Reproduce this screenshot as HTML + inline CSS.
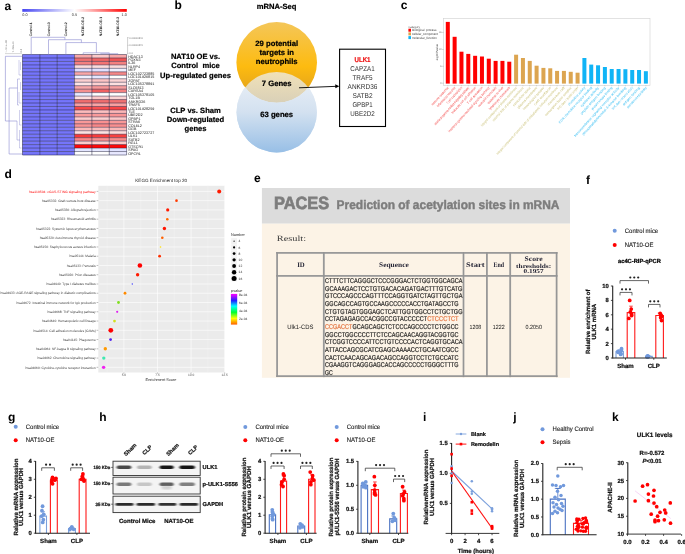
<!DOCTYPE html>
<html><head><meta charset="utf-8"><style>
html,body{margin:0;padding:0;background:#fff;width:685px;height:554px;overflow:hidden}
svg{display:block;will-change:transform;font-family:"Liberation Sans",sans-serif}
text{text-rendering:geometricPrecision}
</style></head><body>
<svg width="685" height="554" viewBox="0 0 685 554">
<defs>
<linearGradient id="cbar" x1="0" x2="1" y1="0" y2="0"><stop offset="0" stop-color="#4646f2"/><stop offset="0.5" stop-color="#ffffff"/><stop offset="1" stop-color="#ff0000"/></linearGradient>
<linearGradient id="gOr" x1="0" x2="0" y1="0" y2="1"><stop offset="0" stop-color="#f4c659"/><stop offset="0.55" stop-color="#fdbb10"/><stop offset="1" stop-color="#d99a20"/></linearGradient>
<linearGradient id="gBl" x1="0" x2="0" y1="0" y2="1"><stop offset="0" stop-color="#eef2f8"/><stop offset="0.5" stop-color="#d3e1f0"/><stop offset="1" stop-color="#98bfe6"/></linearGradient>
<linearGradient id="pv" x1="0" x2="0" y1="0" y2="1"><stop offset="0" stop-color="#ff00ff"/><stop offset="0.22" stop-color="#2020ff"/><stop offset="0.4" stop-color="#00ffff"/><stop offset="0.6" stop-color="#00ff30"/><stop offset="0.8" stop-color="#ffff00"/><stop offset="1" stop-color="#ff6000"/></linearGradient>
<filter id="blur1"><feGaussianBlur stdDeviation="0.9"/></filter>
<filter id="blurB" x="-20%" y="-100%" width="140%" height="300%"><feGaussianBlur stdDeviation="0.9 0.55"/></filter>
<filter id="blur2"><feGaussianBlur stdDeviation="1.3 0.6"/></filter>
</defs>
<rect x="0" y="0" width="685" height="554" fill="#fff"/>
<text x="4.60" y="9.70" font-size="12" fill="#000" text-anchor="start" font-weight="bold">a</text>
<rect x="22.30" y="9.00" width="104.50" height="2.80" fill="url(#cbar)" stroke="none" stroke-width="1"/>
<text x="22.30" y="15.60" font-size="3.8" fill="#333" text-anchor="start" font-weight="normal">0.0</text>
<text x="74.50" y="15.60" font-size="3.8" fill="#333" text-anchor="middle" font-weight="normal">0.5</text>
<text x="126.80" y="15.60" font-size="3.8" fill="#333" text-anchor="end" font-weight="normal">1.0</text>
<rect x="22.50" y="54.50" width="17.40" height="3.52" fill="#7575fa" stroke="none" stroke-width="1"/>
<rect x="39.85" y="54.50" width="17.40" height="3.52" fill="#7575fa" stroke="none" stroke-width="1"/>
<rect x="57.20" y="54.50" width="17.40" height="3.52" fill="#7575fa" stroke="none" stroke-width="1"/>
<rect x="74.55" y="54.50" width="17.40" height="3.52" fill="#f8a8a8" stroke="none" stroke-width="1"/>
<rect x="91.90" y="54.50" width="17.40" height="3.52" fill="#fcc8c8" stroke="none" stroke-width="1"/>
<rect x="109.25" y="54.50" width="17.40" height="3.52" fill="#f8a8a8" stroke="none" stroke-width="1"/>
<rect x="22.50" y="57.97" width="17.40" height="3.52" fill="#7575fa" stroke="none" stroke-width="1"/>
<rect x="39.85" y="57.97" width="17.40" height="3.52" fill="#7575fa" stroke="none" stroke-width="1"/>
<rect x="57.20" y="57.97" width="17.40" height="3.52" fill="#7575fa" stroke="none" stroke-width="1"/>
<rect x="74.55" y="57.97" width="17.40" height="3.52" fill="#f07070" stroke="none" stroke-width="1"/>
<rect x="91.90" y="57.97" width="17.40" height="3.52" fill="#f06666" stroke="none" stroke-width="1"/>
<rect x="109.25" y="57.97" width="17.40" height="3.52" fill="#f05555" stroke="none" stroke-width="1"/>
<rect x="22.50" y="61.43" width="17.40" height="3.52" fill="#7575fa" stroke="none" stroke-width="1"/>
<rect x="39.85" y="61.43" width="17.40" height="3.52" fill="#7575fa" stroke="none" stroke-width="1"/>
<rect x="57.20" y="61.43" width="17.40" height="3.52" fill="#7575fa" stroke="none" stroke-width="1"/>
<rect x="74.55" y="61.43" width="17.40" height="3.52" fill="#f48080" stroke="none" stroke-width="1"/>
<rect x="91.90" y="61.43" width="17.40" height="3.52" fill="#f47474" stroke="none" stroke-width="1"/>
<rect x="109.25" y="61.43" width="17.40" height="3.52" fill="#f48080" stroke="none" stroke-width="1"/>
<rect x="22.50" y="64.90" width="17.40" height="3.52" fill="#7575fa" stroke="none" stroke-width="1"/>
<rect x="39.85" y="64.90" width="17.40" height="3.52" fill="#7575fa" stroke="none" stroke-width="1"/>
<rect x="57.20" y="64.90" width="17.40" height="3.52" fill="#7575fa" stroke="none" stroke-width="1"/>
<rect x="74.55" y="64.90" width="17.40" height="3.52" fill="#fcdcdc" stroke="none" stroke-width="1"/>
<rect x="91.90" y="64.90" width="17.40" height="3.52" fill="#fcdcdc" stroke="none" stroke-width="1"/>
<rect x="109.25" y="64.90" width="17.40" height="3.52" fill="#fcdcdc" stroke="none" stroke-width="1"/>
<rect x="22.50" y="68.36" width="17.40" height="3.52" fill="#7575fa" stroke="none" stroke-width="1"/>
<rect x="39.85" y="68.36" width="17.40" height="3.52" fill="#7575fa" stroke="none" stroke-width="1"/>
<rect x="57.20" y="68.36" width="17.40" height="3.52" fill="#7575fa" stroke="none" stroke-width="1"/>
<rect x="74.55" y="68.36" width="17.40" height="3.52" fill="#dcdcff" stroke="none" stroke-width="1"/>
<rect x="91.90" y="68.36" width="17.40" height="3.52" fill="#e0e0ff" stroke="none" stroke-width="1"/>
<rect x="109.25" y="68.36" width="17.40" height="3.52" fill="#f0f0ff" stroke="none" stroke-width="1"/>
<rect x="22.50" y="71.83" width="17.40" height="3.52" fill="#7575fa" stroke="none" stroke-width="1"/>
<rect x="39.85" y="71.83" width="17.40" height="3.52" fill="#7575fa" stroke="none" stroke-width="1"/>
<rect x="57.20" y="71.83" width="17.40" height="3.52" fill="#7575fa" stroke="none" stroke-width="1"/>
<rect x="74.55" y="71.83" width="17.40" height="3.52" fill="#f8a8a8" stroke="none" stroke-width="1"/>
<rect x="91.90" y="71.83" width="17.40" height="3.52" fill="#f8a0a0" stroke="none" stroke-width="1"/>
<rect x="109.25" y="71.83" width="17.40" height="3.52" fill="#f48888" stroke="none" stroke-width="1"/>
<rect x="22.50" y="75.29" width="17.40" height="3.52" fill="#7575fa" stroke="none" stroke-width="1"/>
<rect x="39.85" y="75.29" width="17.40" height="3.52" fill="#7575fa" stroke="none" stroke-width="1"/>
<rect x="57.20" y="75.29" width="17.40" height="3.52" fill="#7575fa" stroke="none" stroke-width="1"/>
<rect x="74.55" y="75.29" width="17.40" height="3.52" fill="#eef0ff" stroke="none" stroke-width="1"/>
<rect x="91.90" y="75.29" width="17.40" height="3.52" fill="#e4e6ff" stroke="none" stroke-width="1"/>
<rect x="109.25" y="75.29" width="17.40" height="3.52" fill="#ffffff" stroke="none" stroke-width="1"/>
<rect x="22.50" y="78.76" width="17.40" height="3.52" fill="#7575fa" stroke="none" stroke-width="1"/>
<rect x="39.85" y="78.76" width="17.40" height="3.52" fill="#7575fa" stroke="none" stroke-width="1"/>
<rect x="57.20" y="78.76" width="17.40" height="3.52" fill="#7575fa" stroke="none" stroke-width="1"/>
<rect x="74.55" y="78.76" width="17.40" height="3.52" fill="#fcd0d0" stroke="none" stroke-width="1"/>
<rect x="91.90" y="78.76" width="17.40" height="3.52" fill="#fcc4c4" stroke="none" stroke-width="1"/>
<rect x="109.25" y="78.76" width="17.40" height="3.52" fill="#fcd4d4" stroke="none" stroke-width="1"/>
<rect x="22.50" y="82.22" width="17.40" height="3.52" fill="#7575fa" stroke="none" stroke-width="1"/>
<rect x="39.85" y="82.22" width="17.40" height="3.52" fill="#7575fa" stroke="none" stroke-width="1"/>
<rect x="57.20" y="82.22" width="17.40" height="3.52" fill="#7575fa" stroke="none" stroke-width="1"/>
<rect x="74.55" y="82.22" width="17.40" height="3.52" fill="#fde4e4" stroke="none" stroke-width="1"/>
<rect x="91.90" y="82.22" width="17.40" height="3.52" fill="#fcd0d0" stroke="none" stroke-width="1"/>
<rect x="109.25" y="82.22" width="17.40" height="3.52" fill="#fde0e0" stroke="none" stroke-width="1"/>
<rect x="22.50" y="85.69" width="17.40" height="3.52" fill="#7575fa" stroke="none" stroke-width="1"/>
<rect x="39.85" y="85.69" width="17.40" height="3.52" fill="#7575fa" stroke="none" stroke-width="1"/>
<rect x="57.20" y="85.69" width="17.40" height="3.52" fill="#7575fa" stroke="none" stroke-width="1"/>
<rect x="74.55" y="85.69" width="17.40" height="3.52" fill="#f8a8a8" stroke="none" stroke-width="1"/>
<rect x="91.90" y="85.69" width="17.40" height="3.52" fill="#f89898" stroke="none" stroke-width="1"/>
<rect x="109.25" y="85.69" width="17.40" height="3.52" fill="#f8a0a0" stroke="none" stroke-width="1"/>
<rect x="22.50" y="89.16" width="17.40" height="3.52" fill="#7575fa" stroke="none" stroke-width="1"/>
<rect x="39.85" y="89.16" width="17.40" height="3.52" fill="#7575fa" stroke="none" stroke-width="1"/>
<rect x="57.20" y="89.16" width="17.40" height="3.52" fill="#7575fa" stroke="none" stroke-width="1"/>
<rect x="74.55" y="89.16" width="17.40" height="3.52" fill="#f49090" stroke="none" stroke-width="1"/>
<rect x="91.90" y="89.16" width="17.40" height="3.52" fill="#f06060" stroke="none" stroke-width="1"/>
<rect x="109.25" y="89.16" width="17.40" height="3.52" fill="#f48080" stroke="none" stroke-width="1"/>
<rect x="22.50" y="92.62" width="17.40" height="3.52" fill="#7575fa" stroke="none" stroke-width="1"/>
<rect x="39.85" y="92.62" width="17.40" height="3.52" fill="#7575fa" stroke="none" stroke-width="1"/>
<rect x="57.20" y="92.62" width="17.40" height="3.52" fill="#7575fa" stroke="none" stroke-width="1"/>
<rect x="74.55" y="92.62" width="17.40" height="3.52" fill="#e8ecff" stroke="none" stroke-width="1"/>
<rect x="91.90" y="92.62" width="17.40" height="3.52" fill="#ffffff" stroke="none" stroke-width="1"/>
<rect x="109.25" y="92.62" width="17.40" height="3.52" fill="#ffffff" stroke="none" stroke-width="1"/>
<rect x="22.50" y="96.09" width="17.40" height="3.52" fill="#7575fa" stroke="none" stroke-width="1"/>
<rect x="39.85" y="96.09" width="17.40" height="3.52" fill="#7575fa" stroke="none" stroke-width="1"/>
<rect x="57.20" y="96.09" width="17.40" height="3.52" fill="#7575fa" stroke="none" stroke-width="1"/>
<rect x="74.55" y="96.09" width="17.40" height="3.52" fill="#fde0e0" stroke="none" stroke-width="1"/>
<rect x="91.90" y="96.09" width="17.40" height="3.52" fill="#fcc8c8" stroke="none" stroke-width="1"/>
<rect x="109.25" y="96.09" width="17.40" height="3.52" fill="#fcd4d4" stroke="none" stroke-width="1"/>
<rect x="22.50" y="99.55" width="17.40" height="3.52" fill="#7575fa" stroke="none" stroke-width="1"/>
<rect x="39.85" y="99.55" width="17.40" height="3.52" fill="#7575fa" stroke="none" stroke-width="1"/>
<rect x="57.20" y="99.55" width="17.40" height="3.52" fill="#7575fa" stroke="none" stroke-width="1"/>
<rect x="74.55" y="99.55" width="17.40" height="3.52" fill="#f06e6e" stroke="none" stroke-width="1"/>
<rect x="91.90" y="99.55" width="17.40" height="3.52" fill="#f06e6e" stroke="none" stroke-width="1"/>
<rect x="109.25" y="99.55" width="17.40" height="3.52" fill="#f07272" stroke="none" stroke-width="1"/>
<rect x="22.50" y="103.02" width="17.40" height="3.52" fill="#7575fa" stroke="none" stroke-width="1"/>
<rect x="39.85" y="103.02" width="17.40" height="3.52" fill="#7575fa" stroke="none" stroke-width="1"/>
<rect x="57.20" y="103.02" width="17.40" height="3.52" fill="#7575fa" stroke="none" stroke-width="1"/>
<rect x="74.55" y="103.02" width="17.40" height="3.52" fill="#f9a0a0" stroke="none" stroke-width="1"/>
<rect x="91.90" y="103.02" width="17.40" height="3.52" fill="#f9a4a4" stroke="none" stroke-width="1"/>
<rect x="109.25" y="103.02" width="17.40" height="3.52" fill="#f9a0a0" stroke="none" stroke-width="1"/>
<rect x="22.50" y="106.48" width="17.40" height="3.52" fill="#7575fa" stroke="none" stroke-width="1"/>
<rect x="39.85" y="106.48" width="17.40" height="3.52" fill="#7575fa" stroke="none" stroke-width="1"/>
<rect x="57.20" y="106.48" width="17.40" height="3.52" fill="#7575fa" stroke="none" stroke-width="1"/>
<rect x="74.55" y="106.48" width="17.40" height="3.52" fill="#f84848" stroke="none" stroke-width="1"/>
<rect x="91.90" y="106.48" width="17.40" height="3.52" fill="#f85050" stroke="none" stroke-width="1"/>
<rect x="109.25" y="106.48" width="17.40" height="3.52" fill="#f84444" stroke="none" stroke-width="1"/>
<rect x="22.50" y="109.95" width="17.40" height="3.52" fill="#7575fa" stroke="none" stroke-width="1"/>
<rect x="39.85" y="109.95" width="17.40" height="3.52" fill="#7575fa" stroke="none" stroke-width="1"/>
<rect x="57.20" y="109.95" width="17.40" height="3.52" fill="#7575fa" stroke="none" stroke-width="1"/>
<rect x="74.55" y="109.95" width="17.40" height="3.52" fill="#fbbaba" stroke="none" stroke-width="1"/>
<rect x="91.90" y="109.95" width="17.40" height="3.52" fill="#fbc0c0" stroke="none" stroke-width="1"/>
<rect x="109.25" y="109.95" width="17.40" height="3.52" fill="#fbb6b6" stroke="none" stroke-width="1"/>
<rect x="22.50" y="113.41" width="17.40" height="3.52" fill="#7575fa" stroke="none" stroke-width="1"/>
<rect x="39.85" y="113.41" width="17.40" height="3.52" fill="#7575fa" stroke="none" stroke-width="1"/>
<rect x="57.20" y="113.41" width="17.40" height="3.52" fill="#7575fa" stroke="none" stroke-width="1"/>
<rect x="74.55" y="113.41" width="17.40" height="3.52" fill="#f99a9a" stroke="none" stroke-width="1"/>
<rect x="91.90" y="113.41" width="17.40" height="3.52" fill="#f99a9a" stroke="none" stroke-width="1"/>
<rect x="109.25" y="113.41" width="17.40" height="3.52" fill="#f99494" stroke="none" stroke-width="1"/>
<rect x="22.50" y="116.88" width="17.40" height="3.52" fill="#7575fa" stroke="none" stroke-width="1"/>
<rect x="39.85" y="116.88" width="17.40" height="3.52" fill="#7575fa" stroke="none" stroke-width="1"/>
<rect x="57.20" y="116.88" width="17.40" height="3.52" fill="#7575fa" stroke="none" stroke-width="1"/>
<rect x="74.55" y="116.88" width="17.40" height="3.52" fill="#fccccc" stroke="none" stroke-width="1"/>
<rect x="91.90" y="116.88" width="17.40" height="3.52" fill="#fcd0d0" stroke="none" stroke-width="1"/>
<rect x="109.25" y="116.88" width="17.40" height="3.52" fill="#fcc8c8" stroke="none" stroke-width="1"/>
<rect x="22.50" y="120.34" width="17.40" height="3.52" fill="#7575fa" stroke="none" stroke-width="1"/>
<rect x="39.85" y="120.34" width="17.40" height="3.52" fill="#7575fa" stroke="none" stroke-width="1"/>
<rect x="57.20" y="120.34" width="17.40" height="3.52" fill="#7575fa" stroke="none" stroke-width="1"/>
<rect x="74.55" y="120.34" width="17.40" height="3.52" fill="#f99898" stroke="none" stroke-width="1"/>
<rect x="91.90" y="120.34" width="17.40" height="3.52" fill="#f99090" stroke="none" stroke-width="1"/>
<rect x="109.25" y="120.34" width="17.40" height="3.52" fill="#f99898" stroke="none" stroke-width="1"/>
<rect x="22.50" y="123.81" width="17.40" height="3.52" fill="#7575fa" stroke="none" stroke-width="1"/>
<rect x="39.85" y="123.81" width="17.40" height="3.52" fill="#7575fa" stroke="none" stroke-width="1"/>
<rect x="57.20" y="123.81" width="17.40" height="3.52" fill="#7575fa" stroke="none" stroke-width="1"/>
<rect x="74.55" y="123.81" width="17.40" height="3.52" fill="#f99494" stroke="none" stroke-width="1"/>
<rect x="91.90" y="123.81" width="17.40" height="3.52" fill="#f88888" stroke="none" stroke-width="1"/>
<rect x="109.25" y="123.81" width="17.40" height="3.52" fill="#f99090" stroke="none" stroke-width="1"/>
<rect x="22.50" y="127.28" width="17.40" height="3.52" fill="#7575fa" stroke="none" stroke-width="1"/>
<rect x="39.85" y="127.28" width="17.40" height="3.52" fill="#7575fa" stroke="none" stroke-width="1"/>
<rect x="57.20" y="127.28" width="17.40" height="3.52" fill="#7575fa" stroke="none" stroke-width="1"/>
<rect x="74.55" y="127.28" width="17.40" height="3.52" fill="#fbb8b8" stroke="none" stroke-width="1"/>
<rect x="91.90" y="127.28" width="17.40" height="3.52" fill="#fbbcbc" stroke="none" stroke-width="1"/>
<rect x="109.25" y="127.28" width="17.40" height="3.52" fill="#fbb8b8" stroke="none" stroke-width="1"/>
<rect x="22.50" y="130.74" width="17.40" height="3.52" fill="#7575fa" stroke="none" stroke-width="1"/>
<rect x="39.85" y="130.74" width="17.40" height="3.52" fill="#7575fa" stroke="none" stroke-width="1"/>
<rect x="57.20" y="130.74" width="17.40" height="3.52" fill="#7575fa" stroke="none" stroke-width="1"/>
<rect x="74.55" y="130.74" width="17.40" height="3.52" fill="#fde0e0" stroke="none" stroke-width="1"/>
<rect x="91.90" y="130.74" width="17.40" height="3.52" fill="#fde2e2" stroke="none" stroke-width="1"/>
<rect x="109.25" y="130.74" width="17.40" height="3.52" fill="#fddcdc" stroke="none" stroke-width="1"/>
<rect x="22.50" y="134.21" width="17.40" height="3.52" fill="#7575fa" stroke="none" stroke-width="1"/>
<rect x="39.85" y="134.21" width="17.40" height="3.52" fill="#7575fa" stroke="none" stroke-width="1"/>
<rect x="57.20" y="134.21" width="17.40" height="3.52" fill="#7575fa" stroke="none" stroke-width="1"/>
<rect x="74.55" y="134.21" width="17.40" height="3.52" fill="#f83838" stroke="none" stroke-width="1"/>
<rect x="91.90" y="134.21" width="17.40" height="3.52" fill="#f83c3c" stroke="none" stroke-width="1"/>
<rect x="109.25" y="134.21" width="17.40" height="3.52" fill="#f84040" stroke="none" stroke-width="1"/>
<rect x="22.50" y="137.67" width="17.40" height="3.52" fill="#7575fa" stroke="none" stroke-width="1"/>
<rect x="39.85" y="137.67" width="17.40" height="3.52" fill="#7575fa" stroke="none" stroke-width="1"/>
<rect x="57.20" y="137.67" width="17.40" height="3.52" fill="#7575fa" stroke="none" stroke-width="1"/>
<rect x="74.55" y="137.67" width="17.40" height="3.52" fill="#f88888" stroke="none" stroke-width="1"/>
<rect x="91.90" y="137.67" width="17.40" height="3.52" fill="#f89090" stroke="none" stroke-width="1"/>
<rect x="109.25" y="137.67" width="17.40" height="3.52" fill="#f88c8c" stroke="none" stroke-width="1"/>
<rect x="22.50" y="141.14" width="17.40" height="3.52" fill="#7575fa" stroke="none" stroke-width="1"/>
<rect x="39.85" y="141.14" width="17.40" height="3.52" fill="#7575fa" stroke="none" stroke-width="1"/>
<rect x="57.20" y="141.14" width="17.40" height="3.52" fill="#7575fa" stroke="none" stroke-width="1"/>
<rect x="74.55" y="141.14" width="17.40" height="3.52" fill="#fccaca" stroke="none" stroke-width="1"/>
<rect x="91.90" y="141.14" width="17.40" height="3.52" fill="#fcd0d0" stroke="none" stroke-width="1"/>
<rect x="109.25" y="141.14" width="17.40" height="3.52" fill="#fcc8c8" stroke="none" stroke-width="1"/>
<rect x="22.50" y="144.60" width="17.40" height="3.52" fill="#7575fa" stroke="none" stroke-width="1"/>
<rect x="39.85" y="144.60" width="17.40" height="3.52" fill="#7575fa" stroke="none" stroke-width="1"/>
<rect x="57.20" y="144.60" width="17.40" height="3.52" fill="#7575fa" stroke="none" stroke-width="1"/>
<rect x="74.55" y="144.60" width="17.40" height="3.52" fill="#ff0808" stroke="none" stroke-width="1"/>
<rect x="91.90" y="144.60" width="17.40" height="3.52" fill="#ff0808" stroke="none" stroke-width="1"/>
<rect x="109.25" y="144.60" width="17.40" height="3.52" fill="#ff0808" stroke="none" stroke-width="1"/>
<rect x="22.50" y="148.07" width="17.40" height="3.52" fill="#7575fa" stroke="none" stroke-width="1"/>
<rect x="39.85" y="148.07" width="17.40" height="3.52" fill="#7575fa" stroke="none" stroke-width="1"/>
<rect x="57.20" y="148.07" width="17.40" height="3.52" fill="#7575fa" stroke="none" stroke-width="1"/>
<rect x="74.55" y="148.07" width="17.40" height="3.52" fill="#e4e6ff" stroke="none" stroke-width="1"/>
<rect x="91.90" y="148.07" width="17.40" height="3.52" fill="#e6e8ff" stroke="none" stroke-width="1"/>
<rect x="109.25" y="148.07" width="17.40" height="3.52" fill="#e0e2ff" stroke="none" stroke-width="1"/>
<rect x="22.50" y="151.53" width="17.40" height="3.52" fill="#7575fa" stroke="none" stroke-width="1"/>
<rect x="39.85" y="151.53" width="17.40" height="3.52" fill="#7575fa" stroke="none" stroke-width="1"/>
<rect x="57.20" y="151.53" width="17.40" height="3.52" fill="#7575fa" stroke="none" stroke-width="1"/>
<rect x="74.55" y="151.53" width="17.40" height="3.52" fill="#ffffff" stroke="none" stroke-width="1"/>
<rect x="91.90" y="151.53" width="17.40" height="3.52" fill="#ffffff" stroke="none" stroke-width="1"/>
<rect x="109.25" y="151.53" width="17.40" height="3.52" fill="#e8e8ff" stroke="none" stroke-width="1"/>
<line x1="22.50" y1="54.50" x2="126.60" y2="54.50" stroke="#1c1c3a" stroke-width="0.6" stroke-opacity="0.8"/>
<line x1="22.50" y1="57.97" x2="126.60" y2="57.97" stroke="#1c1c3a" stroke-width="0.6" stroke-opacity="0.8"/>
<line x1="22.50" y1="61.43" x2="126.60" y2="61.43" stroke="#1c1c3a" stroke-width="0.6" stroke-opacity="0.8"/>
<line x1="22.50" y1="64.90" x2="126.60" y2="64.90" stroke="#1c1c3a" stroke-width="0.6" stroke-opacity="0.8"/>
<line x1="22.50" y1="68.36" x2="126.60" y2="68.36" stroke="#1c1c3a" stroke-width="0.6" stroke-opacity="0.8"/>
<line x1="22.50" y1="71.83" x2="126.60" y2="71.83" stroke="#1c1c3a" stroke-width="0.6" stroke-opacity="0.8"/>
<line x1="22.50" y1="75.29" x2="126.60" y2="75.29" stroke="#1c1c3a" stroke-width="0.6" stroke-opacity="0.8"/>
<line x1="22.50" y1="78.76" x2="126.60" y2="78.76" stroke="#1c1c3a" stroke-width="0.6" stroke-opacity="0.8"/>
<line x1="22.50" y1="82.22" x2="126.60" y2="82.22" stroke="#1c1c3a" stroke-width="0.6" stroke-opacity="0.8"/>
<line x1="22.50" y1="85.69" x2="126.60" y2="85.69" stroke="#1c1c3a" stroke-width="0.6" stroke-opacity="0.8"/>
<line x1="22.50" y1="89.16" x2="126.60" y2="89.16" stroke="#1c1c3a" stroke-width="0.6" stroke-opacity="0.8"/>
<line x1="22.50" y1="92.62" x2="126.60" y2="92.62" stroke="#1c1c3a" stroke-width="0.6" stroke-opacity="0.8"/>
<line x1="22.50" y1="96.09" x2="126.60" y2="96.09" stroke="#1c1c3a" stroke-width="0.6" stroke-opacity="0.8"/>
<line x1="22.50" y1="99.55" x2="126.60" y2="99.55" stroke="#1c1c3a" stroke-width="0.6" stroke-opacity="0.8"/>
<line x1="22.50" y1="103.02" x2="126.60" y2="103.02" stroke="#1c1c3a" stroke-width="0.6" stroke-opacity="0.8"/>
<line x1="22.50" y1="106.48" x2="126.60" y2="106.48" stroke="#1c1c3a" stroke-width="0.6" stroke-opacity="0.8"/>
<line x1="22.50" y1="109.95" x2="126.60" y2="109.95" stroke="#1c1c3a" stroke-width="0.6" stroke-opacity="0.8"/>
<line x1="22.50" y1="113.41" x2="126.60" y2="113.41" stroke="#1c1c3a" stroke-width="0.6" stroke-opacity="0.8"/>
<line x1="22.50" y1="116.88" x2="126.60" y2="116.88" stroke="#1c1c3a" stroke-width="0.6" stroke-opacity="0.8"/>
<line x1="22.50" y1="120.34" x2="126.60" y2="120.34" stroke="#1c1c3a" stroke-width="0.6" stroke-opacity="0.8"/>
<line x1="22.50" y1="123.81" x2="126.60" y2="123.81" stroke="#1c1c3a" stroke-width="0.6" stroke-opacity="0.8"/>
<line x1="22.50" y1="127.28" x2="126.60" y2="127.28" stroke="#1c1c3a" stroke-width="0.6" stroke-opacity="0.8"/>
<line x1="22.50" y1="130.74" x2="126.60" y2="130.74" stroke="#1c1c3a" stroke-width="0.6" stroke-opacity="0.8"/>
<line x1="22.50" y1="134.21" x2="126.60" y2="134.21" stroke="#1c1c3a" stroke-width="0.6" stroke-opacity="0.8"/>
<line x1="22.50" y1="137.67" x2="126.60" y2="137.67" stroke="#1c1c3a" stroke-width="0.6" stroke-opacity="0.8"/>
<line x1="22.50" y1="141.14" x2="126.60" y2="141.14" stroke="#1c1c3a" stroke-width="0.6" stroke-opacity="0.8"/>
<line x1="22.50" y1="144.60" x2="126.60" y2="144.60" stroke="#1c1c3a" stroke-width="0.6" stroke-opacity="0.8"/>
<line x1="22.50" y1="148.07" x2="126.60" y2="148.07" stroke="#1c1c3a" stroke-width="0.6" stroke-opacity="0.8"/>
<line x1="22.50" y1="151.53" x2="126.60" y2="151.53" stroke="#1c1c3a" stroke-width="0.6" stroke-opacity="0.8"/>
<line x1="22.50" y1="155.00" x2="126.60" y2="155.00" stroke="#1c1c3a" stroke-width="0.6" stroke-opacity="0.8"/>
<line x1="22.50" y1="54.50" x2="22.50" y2="155.00" stroke="#1c1c3a" stroke-width="0.6" stroke-opacity="0.8"/>
<line x1="39.85" y1="54.50" x2="39.85" y2="155.00" stroke="#1c1c3a" stroke-width="0.6" stroke-opacity="0.8"/>
<line x1="57.20" y1="54.50" x2="57.20" y2="155.00" stroke="#1c1c3a" stroke-width="0.6" stroke-opacity="0.8"/>
<line x1="74.55" y1="54.50" x2="74.55" y2="155.00" stroke="#1c1c3a" stroke-width="0.6" stroke-opacity="0.8"/>
<line x1="91.90" y1="54.50" x2="91.90" y2="155.00" stroke="#1c1c3a" stroke-width="0.6" stroke-opacity="0.8"/>
<line x1="109.25" y1="54.50" x2="109.25" y2="155.00" stroke="#1c1c3a" stroke-width="0.6" stroke-opacity="0.8"/>
<line x1="126.60" y1="54.50" x2="126.60" y2="155.00" stroke="#1c1c3a" stroke-width="0.6" stroke-opacity="0.8"/>
<text x="32.38" y="36.30" font-size="3.4" fill="#333" text-anchor="start" font-weight="normal" transform="rotate(-90 32.38 36.30)" stroke="#333" stroke-width="0.12">Control-1</text>
<text x="49.73" y="36.30" font-size="3.4" fill="#333" text-anchor="start" font-weight="normal" transform="rotate(-90 49.73 36.30)" stroke="#333" stroke-width="0.12">Control-3</text>
<text x="67.08" y="36.30" font-size="3.4" fill="#333" text-anchor="start" font-weight="normal" transform="rotate(-90 67.08 36.30)" stroke="#333" stroke-width="0.12">Control-2</text>
<text x="84.42" y="36.30" font-size="3.4" fill="#333" text-anchor="start" font-weight="normal" transform="rotate(-90 84.42 36.30)" stroke="#333" stroke-width="0.12">NAT10-OE-2</text>
<text x="101.77" y="36.30" font-size="3.4" fill="#333" text-anchor="start" font-weight="normal" transform="rotate(-90 101.77 36.30)" stroke="#333" stroke-width="0.12">NAT10-OE-1</text>
<text x="119.12" y="36.30" font-size="3.4" fill="#333" text-anchor="start" font-weight="normal" transform="rotate(-90 119.12 36.30)" stroke="#333" stroke-width="0.12">NAT10-OE-3</text>
<path d="M31.2 54.5 V37.3 H64.9 V39.7" stroke="#8a8ad0" stroke-width="0.6" fill="none"/>
<path d="M48.5 54.5 V39.7 H81.4 V42.6" stroke="#8a8ad0" stroke-width="0.6" fill="none"/>
<path d="M65.9 54.5 V42.6 H96.4 V52.8" stroke="#8a8ad0" stroke-width="0.6" fill="none"/>
<path d="M83.2 54.5 V52.8 H109.3 V53.7" stroke="#8a8ad0" stroke-width="0.6" fill="none"/>
<path d="M100.6 54.5 V53.7 H117.9 V54.5" stroke="#8a8ad0" stroke-width="0.6" fill="none"/>
<path d="M22 56.3 H5.4 V121 H17" stroke="#8a8ad0" stroke-width="0.6" fill="none"/>
<path d="M22 154 H9.1 V88 H17.5" stroke="#8a8ad0" stroke-width="0.6" fill="none"/>
<path d="M17.5 79 V105 H19" stroke="#8a8ad0" stroke-width="0.5" fill="none"/>
<path d="M17.5 79 H20" stroke="#8a8ad0" stroke-width="0.5" fill="none"/>
<path d="M17 121 V140 H20" stroke="#8a8ad0" stroke-width="0.5" fill="none"/>
<path d="M19 60 V75 H21" stroke="#8a8ad0" stroke-width="0.4" fill="none"/>
<path d="M19 92 V103 H21.5" stroke="#8a8ad0" stroke-width="0.4" fill="none"/>
<path d="M19.5 110 V125 H21.5" stroke="#8a8ad0" stroke-width="0.4" fill="none"/>
<path d="M19.5 130 V148 H21.5" stroke="#8a8ad0" stroke-width="0.4" fill="none"/>
<path d="M20.5 62 V70" stroke="#8a8ad0" stroke-width="0.4" fill="none"/>
<path d="M20.5 82 V90" stroke="#8a8ad0" stroke-width="0.4" fill="none"/>
<line x1="5.00" y1="53.60" x2="22.00" y2="53.60" stroke="#999" stroke-width="0.4"/>
<text x="6.50" y="52.50" font-size="2.6" fill="#777" text-anchor="start" font-weight="normal" transform="rotate(-90 6.50 52.50)">1.431e+00</text>
<text x="13.80" y="52.50" font-size="2.6" fill="#777" text-anchor="start" font-weight="normal" transform="rotate(-90 13.80 52.50)">7.156e-01</text>
<text x="21.50" y="52.50" font-size="2.6" fill="#777" text-anchor="start" font-weight="normal" transform="rotate(-90 21.50 52.50)">0.0</text>
<line x1="127.60" y1="37.10" x2="127.60" y2="54.30" stroke="#888" stroke-width="0.4"/>
<line x1="127.60" y1="37.70" x2="128.60" y2="37.70" stroke="#888" stroke-width="0.4"/>
<text x="129.30" y="38.60" font-size="2.6" fill="#777" text-anchor="start" font-weight="normal">0.00000540</text>
<line x1="127.60" y1="45.30" x2="128.60" y2="45.30" stroke="#888" stroke-width="0.4"/>
<text x="129.30" y="46.20" font-size="2.6" fill="#777" text-anchor="start" font-weight="normal">0.00000270</text>
<line x1="127.60" y1="53.30" x2="128.60" y2="53.30" stroke="#888" stroke-width="0.4"/>
<text x="129.30" y="54.20" font-size="2.6" fill="#777" text-anchor="start" font-weight="normal">0.0</text>
<text x="128.20" y="57.53" font-size="3.7" fill="#222" text-anchor="start" font-weight="normal">HDAC13</text>
<text x="128.20" y="61.00" font-size="3.7" fill="#222" text-anchor="start" font-weight="normal">FOXN3</text>
<text x="128.20" y="64.46" font-size="3.7" fill="#222" text-anchor="start" font-weight="normal">IL36</text>
<text x="128.20" y="67.93" font-size="3.7" fill="#222" text-anchor="start" font-weight="normal">NLRP4</text>
<text x="128.20" y="71.39" font-size="3.7" fill="#222" text-anchor="start" font-weight="normal">MEF</text>
<text x="128.20" y="74.86" font-size="3.7" fill="#222" text-anchor="start" font-weight="normal">LOC102723885</text>
<text x="128.20" y="78.33" font-size="3.7" fill="#222" text-anchor="start" font-weight="normal">LOC101926815</text>
<text x="128.20" y="81.79" font-size="3.7" fill="#222" text-anchor="start" font-weight="normal">ZGPAT</text>
<text x="128.20" y="85.26" font-size="3.7" fill="#222" text-anchor="start" font-weight="normal">LOC105378891</text>
<text x="128.20" y="88.72" font-size="3.7" fill="#222" text-anchor="start" font-weight="normal">SLC6813</text>
<text x="128.20" y="92.19" font-size="3.7" fill="#222" text-anchor="start" font-weight="normal">CARSA4</text>
<text x="128.20" y="95.65" font-size="3.7" fill="#222" text-anchor="start" font-weight="normal">LOC105378105</text>
<text x="128.20" y="99.12" font-size="3.7" fill="#222" text-anchor="start" font-weight="normal">TGL1B</text>
<text x="128.20" y="102.58" font-size="3.7" fill="#222" text-anchor="start" font-weight="normal">ANKRD36</text>
<text x="128.20" y="106.05" font-size="3.7" fill="#222" text-anchor="start" font-weight="normal">TRAF5</text>
<text x="128.20" y="109.52" font-size="3.7" fill="#222" text-anchor="start" font-weight="normal">LOC101928259</text>
<text x="128.20" y="112.98" font-size="3.7" fill="#222" text-anchor="start" font-weight="normal">TLE</text>
<text x="128.20" y="116.45" font-size="3.7" fill="#222" text-anchor="start" font-weight="normal">UBE2D2</text>
<text x="128.20" y="119.91" font-size="3.7" fill="#222" text-anchor="start" font-weight="normal">GPBP1</text>
<text x="128.20" y="123.38" font-size="3.7" fill="#222" text-anchor="start" font-weight="normal">STRA6</text>
<text x="128.20" y="126.84" font-size="3.7" fill="#222" text-anchor="start" font-weight="normal">COL6L2</text>
<text x="128.20" y="130.31" font-size="3.7" fill="#222" text-anchor="start" font-weight="normal">GGB</text>
<text x="128.20" y="133.77" font-size="3.7" fill="#222" text-anchor="start" font-weight="normal">LOC102723727</text>
<text x="128.20" y="137.24" font-size="3.7" fill="#222" text-anchor="start" font-weight="normal">ULK1</text>
<text x="128.20" y="140.71" font-size="3.7" fill="#222" text-anchor="start" font-weight="normal">SATB2</text>
<text x="128.20" y="144.17" font-size="3.7" fill="#222" text-anchor="start" font-weight="normal">RGL1</text>
<text x="128.20" y="147.64" font-size="3.7" fill="#222" text-anchor="start" font-weight="normal">GTSCR1</text>
<text x="128.20" y="151.10" font-size="3.7" fill="#222" text-anchor="start" font-weight="normal">SPAG</text>
<text x="128.20" y="154.57" font-size="3.7" fill="#222" text-anchor="start" font-weight="normal">OPCR1</text>
<text x="174.60" y="8.90" font-size="12" fill="#000" text-anchor="start" font-weight="bold">b</text>
<text x="276.60" y="9.20" font-size="7.6" fill="#000" text-anchor="middle" font-weight="bold" stroke="#000" stroke-width="0.22">mRNA-Seq</text>
<circle cx="276.70" cy="62.40" r="40.30" fill="url(#gOr)"/>
<circle cx="276.7" cy="112.2" r="40.2" fill="url(#gBl)" fill-opacity="0.72"/>
<clipPath id="outTop"><path d="M230 60 H330 V160 H230 Z M236.4 62.4 A40.3 40.3 0 0 0 317 62.4 A40.3 40.3 0 0 0 236.4 62.4 Z" clip-rule="evenodd"/></clipPath>
<circle cx="276.7" cy="112.2" r="40.2" fill="url(#gBl)" clip-path="url(#outTop)"/>
<text x="276.70" y="46.20" font-size="7.7" fill="#000" text-anchor="middle" font-weight="bold" stroke="#000" stroke-width="0.22">29 potential</text>
<text x="276.70" y="55.10" font-size="7.7" fill="#000" text-anchor="middle" font-weight="bold" stroke="#000" stroke-width="0.22">targets in</text>
<text x="276.70" y="64.00" font-size="7.7" fill="#000" text-anchor="middle" font-weight="bold" stroke="#000" stroke-width="0.22">neutrophils</text>
<text x="276.70" y="86.00" font-size="7.7" fill="#000" text-anchor="middle" font-weight="bold" stroke="#000" stroke-width="0.22">7 Genes</text>
<text x="276.70" y="116.50" font-size="7.7" fill="#000" text-anchor="middle" font-weight="bold" stroke="#000" stroke-width="0.22">63 genes</text>
<text x="195.50" y="58.90" font-size="7.6" fill="#000" text-anchor="middle" font-weight="bold" stroke="#000" stroke-width="0.22" xml:space="preserve">NAT10 OE vs.</text>
<text x="195.50" y="68.40" font-size="7.6" fill="#000" text-anchor="middle" font-weight="bold" stroke="#000" stroke-width="0.22" xml:space="preserve">Control  mice</text>
<text x="195.50" y="77.90" font-size="7.6" fill="#000" text-anchor="middle" font-weight="bold" stroke="#000" stroke-width="0.22" xml:space="preserve">Up-regulated genes</text>
<text x="195.50" y="113.30" font-size="7.6" fill="#000" text-anchor="middle" font-weight="bold" stroke="#000" stroke-width="0.22">CLP vs. Sham</text>
<text x="195.50" y="122.30" font-size="7.6" fill="#000" text-anchor="middle" font-weight="bold" stroke="#000" stroke-width="0.22">Down-regulated</text>
<text x="195.50" y="131.30" font-size="7.6" fill="#000" text-anchor="middle" font-weight="bold" stroke="#000" stroke-width="0.22">genes</text>
<line x1="299.00" y1="87.80" x2="337.00" y2="86.30" stroke="#000" stroke-width="0.9"/>
<path d="M339.3 86.2 L335.2 84.3 L335.4 88.3 Z" stroke="none" stroke-width="1" fill="#000"/>
<rect x="339.60" y="49.20" width="45.90" height="77.30" fill="#fff" stroke="#000" stroke-width="1.1"/>
<text x="362.50" y="62.30" font-size="7.0" fill="#ee1111" text-anchor="middle" font-weight="bold" textLength="16.00" lengthAdjust="spacingAndGlyphs" stroke="#ee1111" stroke-width="0.22">ULK1</text>
<text x="362.50" y="71.28" font-size="7.0" fill="#333" text-anchor="middle" font-weight="normal" textLength="24.30" lengthAdjust="spacingAndGlyphs">CAPZA1</text>
<text x="362.50" y="80.26" font-size="7.0" fill="#333" text-anchor="middle" font-weight="normal" textLength="20.25" lengthAdjust="spacingAndGlyphs">TRAF5</text>
<text x="362.50" y="89.24" font-size="7.0" fill="#333" text-anchor="middle" font-weight="normal" textLength="29.80" lengthAdjust="spacingAndGlyphs">ANKRD36</text>
<text x="362.50" y="98.22" font-size="7.0" fill="#333" text-anchor="middle" font-weight="normal" textLength="20.25" lengthAdjust="spacingAndGlyphs">SATB2</text>
<text x="362.50" y="107.20" font-size="7.0" fill="#333" text-anchor="middle" font-weight="normal" textLength="20.25" lengthAdjust="spacingAndGlyphs">GPBP1</text>
<text x="362.50" y="116.18" font-size="7.0" fill="#333" text-anchor="middle" font-weight="normal" textLength="24.30" lengthAdjust="spacingAndGlyphs">UBE2D2</text>
<text x="400.70" y="8.90" font-size="12" fill="#000" text-anchor="start" font-weight="bold">c</text>
<rect x="443.60" y="18.60" width="206.40" height="66.70" fill="#fff" stroke="#d0d0d0" stroke-width="0.6"/>
<rect x="445.80" y="21.90" width="4.00" height="61.70" fill="#ff0000" stroke="none" stroke-width="1"/>
<rect x="452.63" y="36.80" width="4.00" height="46.80" fill="#ff0000" stroke="none" stroke-width="1"/>
<rect x="459.46" y="51.70" width="4.00" height="31.90" fill="#ff0000" stroke="none" stroke-width="1"/>
<rect x="466.29" y="53.90" width="4.00" height="29.70" fill="#ff0000" stroke="none" stroke-width="1"/>
<rect x="473.12" y="55.80" width="4.00" height="27.80" fill="#ff0000" stroke="none" stroke-width="1"/>
<rect x="479.95" y="56.50" width="4.00" height="27.10" fill="#ff0000" stroke="none" stroke-width="1"/>
<rect x="486.78" y="58.70" width="4.00" height="24.90" fill="#ff0000" stroke="none" stroke-width="1"/>
<rect x="493.61" y="60.90" width="4.00" height="22.70" fill="#ff0000" stroke="none" stroke-width="1"/>
<rect x="500.44" y="60.90" width="4.00" height="22.70" fill="#ff0000" stroke="none" stroke-width="1"/>
<rect x="507.27" y="61.70" width="4.00" height="21.90" fill="#ff0000" stroke="none" stroke-width="1"/>
<rect x="514.10" y="54.70" width="4.00" height="28.90" fill="#dca550" stroke="none" stroke-width="1"/>
<rect x="520.93" y="58.00" width="4.00" height="25.60" fill="#dca550" stroke="none" stroke-width="1"/>
<rect x="527.76" y="60.90" width="4.00" height="22.70" fill="#dca550" stroke="none" stroke-width="1"/>
<rect x="534.59" y="65.70" width="4.00" height="17.90" fill="#dca550" stroke="none" stroke-width="1"/>
<rect x="541.42" y="67.90" width="4.00" height="15.70" fill="#dca550" stroke="none" stroke-width="1"/>
<rect x="548.25" y="68.30" width="4.00" height="15.30" fill="#dca550" stroke="none" stroke-width="1"/>
<rect x="555.08" y="70.90" width="4.00" height="12.70" fill="#dca550" stroke="none" stroke-width="1"/>
<rect x="561.91" y="70.90" width="4.00" height="12.70" fill="#dca550" stroke="none" stroke-width="1"/>
<rect x="568.74" y="71.80" width="4.00" height="11.80" fill="#dca550" stroke="none" stroke-width="1"/>
<rect x="575.57" y="72.70" width="4.00" height="10.90" fill="#dca550" stroke="none" stroke-width="1"/>
<rect x="582.40" y="58.00" width="4.00" height="25.60" fill="#10b4f6" stroke="none" stroke-width="1"/>
<rect x="589.23" y="64.60" width="4.00" height="19.00" fill="#10b4f6" stroke="none" stroke-width="1"/>
<rect x="596.06" y="65.30" width="4.00" height="18.30" fill="#10b4f6" stroke="none" stroke-width="1"/>
<rect x="602.89" y="67.00" width="4.00" height="16.60" fill="#10b4f6" stroke="none" stroke-width="1"/>
<rect x="609.72" y="69.00" width="4.00" height="14.60" fill="#10b4f6" stroke="none" stroke-width="1"/>
<rect x="616.55" y="69.00" width="4.00" height="14.60" fill="#10b4f6" stroke="none" stroke-width="1"/>
<rect x="623.38" y="69.20" width="4.00" height="14.40" fill="#10b4f6" stroke="none" stroke-width="1"/>
<rect x="630.21" y="70.00" width="4.00" height="13.60" fill="#10b4f6" stroke="none" stroke-width="1"/>
<rect x="637.04" y="70.00" width="4.00" height="13.60" fill="#10b4f6" stroke="none" stroke-width="1"/>
<rect x="643.87" y="71.20" width="4.00" height="12.40" fill="#10b4f6" stroke="none" stroke-width="1"/>
<line x1="442.20" y1="32.40" x2="443.60" y2="32.40" stroke="#888" stroke-width="0.4"/>
<line x1="442.20" y1="49.50" x2="443.60" y2="49.50" stroke="#888" stroke-width="0.4"/>
<line x1="442.20" y1="66.30" x2="443.60" y2="66.30" stroke="#888" stroke-width="0.4"/>
<line x1="442.20" y1="83.20" x2="443.60" y2="83.20" stroke="#888" stroke-width="0.4"/>
<text x="441.60" y="33.20" font-size="2.4" fill="#777" text-anchor="end" font-weight="normal">15</text>
<text x="441.60" y="50.30" font-size="2.4" fill="#777" text-anchor="end" font-weight="normal">10</text>
<text x="441.60" y="67.10" font-size="2.4" fill="#777" text-anchor="end" font-weight="normal">5</text>
<text x="441.60" y="84.00" font-size="2.4" fill="#777" text-anchor="end" font-weight="normal">0</text>
<text x="437.50" y="52.50" font-size="3.0" fill="#555" text-anchor="middle" font-weight="normal" transform="rotate(-90 437.50 52.50)">-log10Pvalue</text>
<text x="408.60" y="27.60" font-size="3.0" fill="#555" text-anchor="start" font-weight="normal">category</text>
<rect x="408.40" y="28.70" width="2.60" height="3.00" fill="#ff0000" stroke="none" stroke-width="1"/>
<text x="411.90" y="31.30" font-size="3.1" fill="#444" text-anchor="start" font-weight="normal" textLength="24.60" lengthAdjust="spacingAndGlyphs">biological_process</text>
<rect x="408.40" y="32.40" width="2.60" height="3.00" fill="#dca550" stroke="none" stroke-width="1"/>
<text x="411.90" y="35.00" font-size="3.1" fill="#444" text-anchor="start" font-weight="normal" textLength="26.00" lengthAdjust="spacingAndGlyphs">cellular_component</text>
<rect x="408.40" y="36.10" width="2.60" height="3.00" fill="#10b4f6" stroke="none" stroke-width="1"/>
<text x="411.90" y="38.70" font-size="3.1" fill="#444" text-anchor="start" font-weight="normal" textLength="24.90" lengthAdjust="spacingAndGlyphs">molecular_function</text>
<line x1="447.80" y1="85.30" x2="447.80" y2="86.30" stroke="#999" stroke-width="0.4"/>
<line x1="454.63" y1="85.30" x2="454.63" y2="86.30" stroke="#999" stroke-width="0.4"/>
<line x1="461.46" y1="85.30" x2="461.46" y2="86.30" stroke="#999" stroke-width="0.4"/>
<line x1="468.29" y1="85.30" x2="468.29" y2="86.30" stroke="#999" stroke-width="0.4"/>
<line x1="475.12" y1="85.30" x2="475.12" y2="86.30" stroke="#999" stroke-width="0.4"/>
<line x1="481.95" y1="85.30" x2="481.95" y2="86.30" stroke="#999" stroke-width="0.4"/>
<line x1="488.78" y1="85.30" x2="488.78" y2="86.30" stroke="#999" stroke-width="0.4"/>
<line x1="495.61" y1="85.30" x2="495.61" y2="86.30" stroke="#999" stroke-width="0.4"/>
<line x1="502.44" y1="85.30" x2="502.44" y2="86.30" stroke="#999" stroke-width="0.4"/>
<line x1="509.27" y1="85.30" x2="509.27" y2="86.30" stroke="#999" stroke-width="0.4"/>
<line x1="516.10" y1="85.30" x2="516.10" y2="86.30" stroke="#999" stroke-width="0.4"/>
<line x1="522.93" y1="85.30" x2="522.93" y2="86.30" stroke="#999" stroke-width="0.4"/>
<line x1="529.76" y1="85.30" x2="529.76" y2="86.30" stroke="#999" stroke-width="0.4"/>
<line x1="536.59" y1="85.30" x2="536.59" y2="86.30" stroke="#999" stroke-width="0.4"/>
<line x1="543.42" y1="85.30" x2="543.42" y2="86.30" stroke="#999" stroke-width="0.4"/>
<line x1="550.25" y1="85.30" x2="550.25" y2="86.30" stroke="#999" stroke-width="0.4"/>
<line x1="557.08" y1="85.30" x2="557.08" y2="86.30" stroke="#999" stroke-width="0.4"/>
<line x1="563.91" y1="85.30" x2="563.91" y2="86.30" stroke="#999" stroke-width="0.4"/>
<line x1="570.74" y1="85.30" x2="570.74" y2="86.30" stroke="#999" stroke-width="0.4"/>
<line x1="577.57" y1="85.30" x2="577.57" y2="86.30" stroke="#999" stroke-width="0.4"/>
<line x1="584.40" y1="85.30" x2="584.40" y2="86.30" stroke="#999" stroke-width="0.4"/>
<line x1="591.23" y1="85.30" x2="591.23" y2="86.30" stroke="#999" stroke-width="0.4"/>
<line x1="598.06" y1="85.30" x2="598.06" y2="86.30" stroke="#999" stroke-width="0.4"/>
<line x1="604.89" y1="85.30" x2="604.89" y2="86.30" stroke="#999" stroke-width="0.4"/>
<line x1="611.72" y1="85.30" x2="611.72" y2="86.30" stroke="#999" stroke-width="0.4"/>
<line x1="618.55" y1="85.30" x2="618.55" y2="86.30" stroke="#999" stroke-width="0.4"/>
<line x1="625.38" y1="85.30" x2="625.38" y2="86.30" stroke="#999" stroke-width="0.4"/>
<line x1="632.21" y1="85.30" x2="632.21" y2="86.30" stroke="#999" stroke-width="0.4"/>
<line x1="639.04" y1="85.30" x2="639.04" y2="86.30" stroke="#999" stroke-width="0.4"/>
<line x1="645.87" y1="85.30" x2="645.87" y2="86.30" stroke="#999" stroke-width="0.4"/>
<text x="448.80" y="88.00" font-size="3.4" fill="#f34848" text-anchor="end" font-weight="normal" transform="rotate(-48 448.80 88.00)" textLength="24.00" lengthAdjust="spacingAndGlyphs">immune response</text>
<text x="455.63" y="88.00" font-size="3.4" fill="#f34848" text-anchor="end" font-weight="normal" transform="rotate(-48 455.63 88.00)" textLength="26.00" lengthAdjust="spacingAndGlyphs">inflammatory response</text>
<text x="462.46" y="88.00" font-size="3.4" fill="#f34848" text-anchor="end" font-weight="normal" transform="rotate(-48 462.46 88.00)" textLength="22.00" lengthAdjust="spacingAndGlyphs">T cell costimulation</text>
<text x="469.29" y="88.00" font-size="3.4" fill="#f34848" text-anchor="end" font-weight="normal" transform="rotate(-48 469.29 88.00)" textLength="50.00" lengthAdjust="spacingAndGlyphs">interferon-gamma-mediated signaling pathway</text>
<text x="476.12" y="88.00" font-size="3.4" fill="#f34848" text-anchor="end" font-weight="normal" transform="rotate(-48 476.12 88.00)" textLength="35.00" lengthAdjust="spacingAndGlyphs">leukocyte cell-cell adhesion</text>
<text x="482.95" y="88.00" font-size="3.4" fill="#f34848" text-anchor="end" font-weight="normal" transform="rotate(-48 482.95 88.00)" textLength="22.00" lengthAdjust="spacingAndGlyphs">T cell activation</text>
<text x="489.78" y="88.00" font-size="3.4" fill="#f34848" text-anchor="end" font-weight="normal" transform="rotate(-48 489.78 88.00)" textLength="60.00" lengthAdjust="spacingAndGlyphs">interferon-gamma-mediated signaling pathway</text>
<text x="496.61" y="88.00" font-size="3.4" fill="#f34848" text-anchor="end" font-weight="normal" transform="rotate(-48 496.61 88.00)" textLength="26.00" lengthAdjust="spacingAndGlyphs">neutrophil chemotaxis</text>
<text x="503.44" y="88.00" font-size="3.4" fill="#f34848" text-anchor="end" font-weight="normal" transform="rotate(-48 503.44 88.00)" textLength="22.00" lengthAdjust="spacingAndGlyphs">response to virus</text>
<text x="510.27" y="88.00" font-size="3.4" fill="#f34848" text-anchor="end" font-weight="normal" transform="rotate(-48 510.27 88.00)" textLength="30.00" lengthAdjust="spacingAndGlyphs">lymphocyte chemotaxis</text>
<text x="517.10" y="88.00" font-size="3.4" fill="#cbc27a" text-anchor="end" font-weight="normal" transform="rotate(-48 517.10 88.00)" textLength="52.00" lengthAdjust="spacingAndGlyphs">integral component of plasma membrane</text>
<text x="523.93" y="88.00" font-size="3.4" fill="#cbc27a" text-anchor="end" font-weight="normal" transform="rotate(-48 523.93 88.00)" textLength="45.00" lengthAdjust="spacingAndGlyphs">external side of plasma membrane</text>
<text x="530.76" y="88.00" font-size="3.4" fill="#cbc27a" text-anchor="end" font-weight="normal" transform="rotate(-48 530.76 88.00)" textLength="25.00" lengthAdjust="spacingAndGlyphs">extracellular space</text>
<text x="537.59" y="88.00" font-size="3.4" fill="#cbc27a" text-anchor="end" font-weight="normal" transform="rotate(-48 537.59 88.00)" textLength="28.00" lengthAdjust="spacingAndGlyphs">plasma membrane</text>
<text x="544.42" y="88.00" font-size="3.4" fill="#cbc27a" text-anchor="end" font-weight="normal" transform="rotate(-48 544.42 88.00)" textLength="30.00" lengthAdjust="spacingAndGlyphs">immunological synapse</text>
<text x="551.25" y="88.00" font-size="3.4" fill="#cbc27a" text-anchor="end" font-weight="normal" transform="rotate(-48 551.25 88.00)" textLength="24.00" lengthAdjust="spacingAndGlyphs">cell surface</text>
<text x="558.08" y="88.00" font-size="3.4" fill="#cbc27a" text-anchor="end" font-weight="normal" transform="rotate(-48 558.08 88.00)" textLength="90.00" lengthAdjust="spacingAndGlyphs">integral component of lumenal side of endoplasmic reticulum membrane</text>
<text x="564.91" y="88.00" font-size="3.4" fill="#cbc27a" text-anchor="end" font-weight="normal" transform="rotate(-48 564.91 88.00)" textLength="24.00" lengthAdjust="spacingAndGlyphs">membrane raft</text>
<text x="571.74" y="88.00" font-size="3.4" fill="#cbc27a" text-anchor="end" font-weight="normal" transform="rotate(-48 571.74 88.00)" textLength="38.00" lengthAdjust="spacingAndGlyphs">transcription factor complex</text>
<text x="578.57" y="88.00" font-size="3.4" fill="#cbc27a" text-anchor="end" font-weight="normal" transform="rotate(-48 578.57 88.00)" textLength="30.00" lengthAdjust="spacingAndGlyphs">MHC class II protein complex</text>
<text x="585.40" y="88.00" font-size="3.4" fill="#35bdf2" text-anchor="end" font-weight="normal" transform="rotate(-48 585.40 88.00)" textLength="24.00" lengthAdjust="spacingAndGlyphs">chemokine activity</text>
<text x="592.23" y="88.00" font-size="3.4" fill="#35bdf2" text-anchor="end" font-weight="normal" transform="rotate(-48 592.23 88.00)" textLength="48.00" lengthAdjust="spacingAndGlyphs">CCR chemokine receptor binding</text>
<text x="599.06" y="88.00" font-size="3.4" fill="#35bdf2" text-anchor="end" font-weight="normal" transform="rotate(-48 599.06 88.00)" textLength="26.00" lengthAdjust="spacingAndGlyphs">cytokine activity</text>
<text x="605.89" y="88.00" font-size="3.4" fill="#35bdf2" text-anchor="end" font-weight="normal" transform="rotate(-48 605.89 88.00)" textLength="36.00" lengthAdjust="spacingAndGlyphs">peptide antigen binding</text>
<text x="612.72" y="88.00" font-size="3.4" fill="#35bdf2" text-anchor="end" font-weight="normal" transform="rotate(-48 612.72 88.00)" textLength="30.00" lengthAdjust="spacingAndGlyphs">protein kinase binding</text>
<text x="619.55" y="88.00" font-size="3.4" fill="#35bdf2" text-anchor="end" font-weight="normal" transform="rotate(-48 619.55 88.00)" textLength="66.00" lengthAdjust="spacingAndGlyphs">transmembrane signaling receptor activity</text>
<text x="626.38" y="88.00" font-size="3.4" fill="#35bdf2" text-anchor="end" font-weight="normal" transform="rotate(-48 626.38 88.00)" textLength="64.00" lengthAdjust="spacingAndGlyphs">phosphatidylinositol-3-kinase binding</text>
<text x="633.21" y="88.00" font-size="3.4" fill="#35bdf2" text-anchor="end" font-weight="normal" transform="rotate(-48 633.21 88.00)" textLength="30.00" lengthAdjust="spacingAndGlyphs">MHC class II receptor activity</text>
<text x="640.04" y="88.00" font-size="3.4" fill="#35bdf2" text-anchor="end" font-weight="normal" transform="rotate(-48 640.04 88.00)" textLength="24.00" lengthAdjust="spacingAndGlyphs">antigen binding</text>
<text x="646.87" y="88.00" font-size="3.4" fill="#35bdf2" text-anchor="end" font-weight="normal" transform="rotate(-48 646.87 88.00)" textLength="28.00" lengthAdjust="spacingAndGlyphs">chemokine receptor binding</text>
<text x="4.60" y="178.20" font-size="12" fill="#000" text-anchor="start" font-weight="bold">d</text>
<rect x="98.30" y="185.80" width="126.50" height="186.70" fill="#ebebeb" stroke="none" stroke-width="1"/>
<line x1="107.10" y1="185.80" x2="107.10" y2="372.50" stroke="#f6f6f6" stroke-width="0.35"/>
<line x1="140.70" y1="185.80" x2="140.70" y2="372.50" stroke="#f6f6f6" stroke-width="0.35"/>
<line x1="174.30" y1="185.80" x2="174.30" y2="372.50" stroke="#f6f6f6" stroke-width="0.35"/>
<line x1="207.90" y1="185.80" x2="207.90" y2="372.50" stroke="#f6f6f6" stroke-width="0.35"/>
<line x1="123.90" y1="185.80" x2="123.90" y2="372.50" stroke="#fff" stroke-width="0.6"/>
<line x1="157.50" y1="185.80" x2="157.50" y2="372.50" stroke="#fff" stroke-width="0.6"/>
<line x1="191.10" y1="185.80" x2="191.10" y2="372.50" stroke="#fff" stroke-width="0.6"/>
<line x1="224.70" y1="185.80" x2="224.70" y2="372.50" stroke="#fff" stroke-width="0.6"/>
<line x1="98.30" y1="191.40" x2="224.80" y2="191.40" stroke="#fff" stroke-width="0.6"/>
<line x1="98.30" y1="200.66" x2="224.80" y2="200.66" stroke="#fff" stroke-width="0.6"/>
<line x1="98.30" y1="209.92" x2="224.80" y2="209.92" stroke="#fff" stroke-width="0.6"/>
<line x1="98.30" y1="219.18" x2="224.80" y2="219.18" stroke="#fff" stroke-width="0.6"/>
<line x1="98.30" y1="228.44" x2="224.80" y2="228.44" stroke="#fff" stroke-width="0.6"/>
<line x1="98.30" y1="237.70" x2="224.80" y2="237.70" stroke="#fff" stroke-width="0.6"/>
<line x1="98.30" y1="246.96" x2="224.80" y2="246.96" stroke="#fff" stroke-width="0.6"/>
<line x1="98.30" y1="256.22" x2="224.80" y2="256.22" stroke="#fff" stroke-width="0.6"/>
<line x1="98.30" y1="265.48" x2="224.80" y2="265.48" stroke="#fff" stroke-width="0.6"/>
<line x1="98.30" y1="274.74" x2="224.80" y2="274.74" stroke="#fff" stroke-width="0.6"/>
<line x1="98.30" y1="284.00" x2="224.80" y2="284.00" stroke="#fff" stroke-width="0.6"/>
<line x1="98.30" y1="293.26" x2="224.80" y2="293.26" stroke="#fff" stroke-width="0.6"/>
<line x1="98.30" y1="302.52" x2="224.80" y2="302.52" stroke="#fff" stroke-width="0.6"/>
<line x1="98.30" y1="311.78" x2="224.80" y2="311.78" stroke="#fff" stroke-width="0.6"/>
<line x1="98.30" y1="321.04" x2="224.80" y2="321.04" stroke="#fff" stroke-width="0.6"/>
<line x1="98.30" y1="330.30" x2="224.80" y2="330.30" stroke="#fff" stroke-width="0.6"/>
<line x1="98.30" y1="339.56" x2="224.80" y2="339.56" stroke="#fff" stroke-width="0.6"/>
<line x1="98.30" y1="348.82" x2="224.80" y2="348.82" stroke="#fff" stroke-width="0.6"/>
<line x1="98.30" y1="358.08" x2="224.80" y2="358.08" stroke="#fff" stroke-width="0.6"/>
<line x1="98.30" y1="367.34" x2="224.80" y2="367.34" stroke="#fff" stroke-width="0.6"/>
<text x="161.20" y="182.40" font-size="4.6" fill="#222" text-anchor="middle" font-weight="normal">KEGG Enrichment top 20</text>
<text x="95.70" y="192.60" font-size="3.3" fill="#ff1010" text-anchor="end" font-weight="normal" textLength="66.80" lengthAdjust="spacingAndGlyphs">hsa110504: cGAS-STING signaling pathway</text>
<line x1="96.60" y1="191.40" x2="98.30" y2="191.40" stroke="#444" stroke-width="0.35"/>
<text x="95.70" y="201.86" font-size="3.3" fill="#444" text-anchor="end" font-weight="normal" textLength="53.80" lengthAdjust="spacingAndGlyphs">hsa05332: Graft-versus-host disease</text>
<line x1="96.60" y1="200.66" x2="98.30" y2="200.66" stroke="#444" stroke-width="0.35"/>
<text x="95.70" y="211.12" font-size="3.3" fill="#444" text-anchor="end" font-weight="normal" textLength="40.70" lengthAdjust="spacingAndGlyphs">hsa05330: Allograft rejection</text>
<line x1="96.60" y1="209.92" x2="98.30" y2="209.92" stroke="#444" stroke-width="0.35"/>
<text x="95.70" y="220.38" font-size="3.3" fill="#444" text-anchor="end" font-weight="normal" textLength="44.70" lengthAdjust="spacingAndGlyphs">hsa05323: Rheumatoid arthritis</text>
<line x1="96.60" y1="219.18" x2="98.30" y2="219.18" stroke="#444" stroke-width="0.35"/>
<text x="95.70" y="229.64" font-size="3.3" fill="#444" text-anchor="end" font-weight="normal" textLength="59.60" lengthAdjust="spacingAndGlyphs">hsa05322: Systemic lupus erythematosus</text>
<line x1="96.60" y1="228.44" x2="98.30" y2="228.44" stroke="#444" stroke-width="0.35"/>
<text x="95.70" y="238.90" font-size="3.3" fill="#444" text-anchor="end" font-weight="normal" textLength="56.00" lengthAdjust="spacingAndGlyphs">hsa05320: Autoimmune thyroid disease</text>
<line x1="96.60" y1="237.70" x2="98.30" y2="237.70" stroke="#444" stroke-width="0.35"/>
<text x="95.70" y="248.16" font-size="3.3" fill="#444" text-anchor="end" font-weight="normal" textLength="61.80" lengthAdjust="spacingAndGlyphs">hsa05150: Staphylococcus aureus infection</text>
<line x1="96.60" y1="246.96" x2="98.30" y2="246.96" stroke="#444" stroke-width="0.35"/>
<text x="95.70" y="257.42" font-size="3.3" fill="#444" text-anchor="end" font-weight="normal" textLength="26.20" lengthAdjust="spacingAndGlyphs">hsa05144: Malaria</text>
<line x1="96.60" y1="256.22" x2="98.30" y2="256.22" stroke="#444" stroke-width="0.35"/>
<text x="95.70" y="266.68" font-size="3.3" fill="#444" text-anchor="end" font-weight="normal" textLength="28.90" lengthAdjust="spacingAndGlyphs">hsa05133: Pertussis</text>
<line x1="96.60" y1="265.48" x2="98.30" y2="265.48" stroke="#444" stroke-width="0.35"/>
<text x="95.70" y="275.94" font-size="3.3" fill="#444" text-anchor="end" font-weight="normal" textLength="36.70" lengthAdjust="spacingAndGlyphs">hsa05020: Prion diseases</text>
<line x1="96.60" y1="274.74" x2="98.30" y2="274.74" stroke="#444" stroke-width="0.35"/>
<text x="95.70" y="285.20" font-size="3.3" fill="#444" text-anchor="end" font-weight="normal" textLength="49.20" lengthAdjust="spacingAndGlyphs">hsa04940: Type I diabetes mellitus</text>
<line x1="96.60" y1="284.00" x2="98.30" y2="284.00" stroke="#444" stroke-width="0.35"/>
<text x="95.70" y="294.46" font-size="3.3" fill="#444" text-anchor="end" font-weight="normal" textLength="95.20" lengthAdjust="spacingAndGlyphs">hsa04933: AGE-RAGE signaling pathway in diabetic complications</text>
<line x1="96.60" y1="293.26" x2="98.30" y2="293.26" stroke="#444" stroke-width="0.35"/>
<text x="95.70" y="303.72" font-size="3.3" fill="#444" text-anchor="end" font-weight="normal" textLength="79.20" lengthAdjust="spacingAndGlyphs">hsa04672: Intestinal immune network for IgA production</text>
<line x1="96.60" y1="302.52" x2="98.30" y2="302.52" stroke="#444" stroke-width="0.35"/>
<text x="95.70" y="312.98" font-size="3.3" fill="#444" text-anchor="end" font-weight="normal" textLength="48.20" lengthAdjust="spacingAndGlyphs">hsa04668: TNF signaling pathway</text>
<line x1="96.60" y1="311.78" x2="98.30" y2="311.78" stroke="#444" stroke-width="0.35"/>
<text x="95.70" y="322.24" font-size="3.3" fill="#444" text-anchor="end" font-weight="normal" textLength="53.70" lengthAdjust="spacingAndGlyphs">hsa04640: Hematopoietic cell lineage</text>
<line x1="96.60" y1="321.04" x2="98.30" y2="321.04" stroke="#444" stroke-width="0.35"/>
<text x="95.70" y="331.50" font-size="3.3" fill="#444" text-anchor="end" font-weight="normal" textLength="62.20" lengthAdjust="spacingAndGlyphs">hsa04514: Cell adhesion molecules (CAMs)</text>
<line x1="96.60" y1="330.30" x2="98.30" y2="330.30" stroke="#444" stroke-width="0.35"/>
<text x="95.70" y="340.76" font-size="3.3" fill="#444" text-anchor="end" font-weight="normal" textLength="32.70" lengthAdjust="spacingAndGlyphs">hsa04145: Phagosome</text>
<line x1="96.60" y1="339.56" x2="98.30" y2="339.56" stroke="#444" stroke-width="0.35"/>
<text x="95.70" y="350.02" font-size="3.3" fill="#444" text-anchor="end" font-weight="normal" textLength="59.70" lengthAdjust="spacingAndGlyphs">hsa04064: NF-kappa B signaling pathway</text>
<line x1="96.60" y1="348.82" x2="98.30" y2="348.82" stroke="#444" stroke-width="0.35"/>
<text x="95.70" y="359.28" font-size="3.3" fill="#444" text-anchor="end" font-weight="normal" textLength="58.20" lengthAdjust="spacingAndGlyphs">hsa04062: Chemokine signaling pathway</text>
<line x1="96.60" y1="358.08" x2="98.30" y2="358.08" stroke="#444" stroke-width="0.35"/>
<text x="95.70" y="368.54" font-size="3.3" fill="#444" text-anchor="end" font-weight="normal" textLength="70.20" lengthAdjust="spacingAndGlyphs">hsa04060: Cytokine-cytokine receptor interaction</text>
<line x1="96.60" y1="367.34" x2="98.30" y2="367.34" stroke="#444" stroke-width="0.35"/>
<circle cx="219.20" cy="191.40" r="2.00" fill="#ff1a00"/>
<circle cx="176.50" cy="200.66" r="1.30" fill="#ff3a00"/>
<circle cx="167.70" cy="209.92" r="1.60" fill="#ff1a00"/>
<circle cx="167.30" cy="219.18" r="1.30" fill="#ff6a00"/>
<circle cx="164.40" cy="228.44" r="1.70" fill="#ff1400"/>
<circle cx="162.30" cy="237.70" r="1.30" fill="#ff6000"/>
<circle cx="160.50" cy="246.96" r="0.80" fill="#ffe000"/>
<circle cx="159.60" cy="256.22" r="1.40" fill="#ff3000"/>
<circle cx="139.90" cy="265.48" r="2.30" fill="#ff0000"/>
<circle cx="137.60" cy="274.74" r="1.70" fill="#ff1a00"/>
<circle cx="132.30" cy="284.00" r="0.70" fill="#4040ff"/>
<circle cx="125.00" cy="293.26" r="1.40" fill="#ff8a00"/>
<circle cx="118.50" cy="302.52" r="1.40" fill="#80e020"/>
<circle cx="117.20" cy="311.78" r="1.10" fill="#e020f0"/>
<circle cx="114.50" cy="321.04" r="1.40" fill="#d0e020"/>
<circle cx="110.80" cy="330.30" r="2.40" fill="#ff0000"/>
<circle cx="110.60" cy="339.56" r="1.40" fill="#5020f0"/>
<circle cx="105.30" cy="348.82" r="1.70" fill="#ff9a00"/>
<circle cx="103.80" cy="358.08" r="1.70" fill="#40e8b0"/>
<circle cx="103.60" cy="367.34" r="1.70" fill="#f020f0"/>
<line x1="123.90" y1="372.50" x2="123.90" y2="373.70" stroke="#444" stroke-width="0.35"/>
<text x="123.90" y="376.00" font-size="3.2" fill="#555" text-anchor="middle" font-weight="normal">5.0</text>
<line x1="157.50" y1="372.50" x2="157.50" y2="373.70" stroke="#444" stroke-width="0.35"/>
<text x="157.50" y="376.00" font-size="3.2" fill="#555" text-anchor="middle" font-weight="normal">7.5</text>
<line x1="191.10" y1="372.50" x2="191.10" y2="373.70" stroke="#444" stroke-width="0.35"/>
<text x="191.10" y="376.00" font-size="3.2" fill="#555" text-anchor="middle" font-weight="normal">10.0</text>
<line x1="224.70" y1="372.50" x2="224.70" y2="373.70" stroke="#444" stroke-width="0.35"/>
<text x="224.70" y="376.00" font-size="3.2" fill="#555" text-anchor="middle" font-weight="normal">12.5</text>
<text x="161.00" y="381.30" font-size="3.9" fill="#222" text-anchor="middle" font-weight="normal">Enrichment Score</text>
<text x="231.00" y="236.20" font-size="3.9" fill="#222" text-anchor="start" font-weight="normal">Number</text>
<rect x="231.20" y="238.20" width="5.80" height="6.00" fill="#f2f2f2" stroke="none" stroke-width="1"/>
<circle cx="234.10" cy="241.20" r="0.60" fill="#000"/>
<text x="238.60" y="242.40" font-size="3.3" fill="#333" text-anchor="start" font-weight="normal">4</text>
<rect x="231.20" y="244.40" width="5.80" height="6.00" fill="#f2f2f2" stroke="none" stroke-width="1"/>
<circle cx="234.10" cy="247.40" r="1.10" fill="#000"/>
<text x="238.60" y="248.60" font-size="3.3" fill="#333" text-anchor="start" font-weight="normal">6</text>
<rect x="231.20" y="250.60" width="5.80" height="6.00" fill="#f2f2f2" stroke="none" stroke-width="1"/>
<circle cx="234.10" cy="253.60" r="1.40" fill="#000"/>
<text x="238.60" y="254.80" font-size="3.3" fill="#333" text-anchor="start" font-weight="normal">8</text>
<rect x="231.20" y="256.80" width="5.80" height="6.00" fill="#f2f2f2" stroke="none" stroke-width="1"/>
<circle cx="234.10" cy="259.80" r="1.65" fill="#000"/>
<text x="238.60" y="261.00" font-size="3.3" fill="#333" text-anchor="start" font-weight="normal">10</text>
<rect x="231.20" y="263.00" width="5.80" height="6.00" fill="#f2f2f2" stroke="none" stroke-width="1"/>
<circle cx="234.10" cy="266.00" r="1.90" fill="#000"/>
<text x="238.60" y="267.20" font-size="3.3" fill="#333" text-anchor="start" font-weight="normal">12</text>
<rect x="231.20" y="269.20" width="5.80" height="6.00" fill="#f2f2f2" stroke="none" stroke-width="1"/>
<circle cx="234.10" cy="272.20" r="2.20" fill="#000"/>
<text x="238.60" y="273.40" font-size="3.3" fill="#333" text-anchor="start" font-weight="normal">14</text>
<rect x="231.20" y="275.40" width="5.80" height="6.00" fill="#f2f2f2" stroke="none" stroke-width="1"/>
<circle cx="234.10" cy="278.40" r="2.50" fill="#000"/>
<text x="238.60" y="279.60" font-size="3.3" fill="#333" text-anchor="start" font-weight="normal">16</text>
<text x="231.00" y="292.20" font-size="3.9" fill="#222" text-anchor="start" font-weight="normal">pvalue</text>
<rect x="230.90" y="293.90" width="6.30" height="30.70" fill="url(#pv)" stroke="none" stroke-width="1"/>
<text x="238.90" y="295.80" font-size="3.3" fill="#333" text-anchor="start" font-weight="normal">8e-04</text>
<text x="238.90" y="303.90" font-size="3.3" fill="#333" text-anchor="start" font-weight="normal">6e-04</text>
<text x="238.90" y="311.50" font-size="3.3" fill="#333" text-anchor="start" font-weight="normal">4e-04</text>
<text x="238.90" y="319.60" font-size="3.3" fill="#333" text-anchor="start" font-weight="normal">2e-04</text>
<text x="254.00" y="181.60" font-size="12" fill="#000" text-anchor="start" font-weight="bold">e</text>
<rect x="261.90" y="188.00" width="308.10" height="35.70" fill="#dcdcdc" stroke="none" stroke-width="1"/>
<rect x="261.90" y="223.70" width="308.10" height="154.10" fill="#fcf3e6" stroke="none" stroke-width="1"/>
<text x="274.00" y="208.80" font-size="17.6" fill="#7d7d7d" text-anchor="start" font-weight="bold" textLength="55.20" lengthAdjust="spacingAndGlyphs" stroke="#7d7d7d" stroke-width="0.7">PACES</text>
<text x="336.60" y="209.20" font-size="12.4" fill="#7d7d7d" text-anchor="start" font-weight="bold" textLength="222.90" lengthAdjust="spacingAndGlyphs" stroke="#7d7d7d" stroke-width="0.45">Prediction of acetylation sites in mRNA</text>
<text x="276.80" y="241.00" font-size="8.0" fill="#3a3a3a" text-anchor="start" font-weight="normal" font-family="'Liberation Serif', serif" textLength="29.20" lengthAdjust="spacingAndGlyphs">Result:</text>
<line x1="276.20" y1="252.90" x2="557.50" y2="252.90" stroke="#a0a0a0" stroke-width="1.8"/>
<line x1="276.20" y1="275.90" x2="557.50" y2="275.90" stroke="#a0a0a0" stroke-width="1.8"/>
<line x1="276.20" y1="376.20" x2="557.50" y2="376.20" stroke="#a0a0a0" stroke-width="1.8"/>
<line x1="277.10" y1="252.00" x2="277.10" y2="377.10" stroke="#a0a0a0" stroke-width="1.8"/>
<line x1="323.80" y1="252.00" x2="323.80" y2="377.10" stroke="#a0a0a0" stroke-width="1.8"/>
<line x1="463.50" y1="252.00" x2="463.50" y2="377.10" stroke="#a0a0a0" stroke-width="1.8"/>
<line x1="486.90" y1="252.00" x2="486.90" y2="377.10" stroke="#a0a0a0" stroke-width="1.8"/>
<line x1="510.20" y1="252.00" x2="510.20" y2="377.10" stroke="#a0a0a0" stroke-width="1.8"/>
<line x1="556.60" y1="252.00" x2="556.60" y2="377.10" stroke="#a0a0a0" stroke-width="1.8"/>
<line x1="276.20" y1="252.90" x2="557.50" y2="252.90" stroke="#8a8a8a" stroke-width="0.5"/>
<line x1="276.20" y1="275.90" x2="557.50" y2="275.90" stroke="#8a8a8a" stroke-width="0.5"/>
<line x1="276.20" y1="376.20" x2="557.50" y2="376.20" stroke="#8a8a8a" stroke-width="0.5"/>
<line x1="277.10" y1="252.00" x2="277.10" y2="377.10" stroke="#8a8a8a" stroke-width="0.5"/>
<line x1="323.80" y1="252.00" x2="323.80" y2="377.10" stroke="#8a8a8a" stroke-width="0.5"/>
<line x1="463.50" y1="252.00" x2="463.50" y2="377.10" stroke="#8a8a8a" stroke-width="0.5"/>
<line x1="486.90" y1="252.00" x2="486.90" y2="377.10" stroke="#8a8a8a" stroke-width="0.5"/>
<line x1="510.20" y1="252.00" x2="510.20" y2="377.10" stroke="#8a8a8a" stroke-width="0.5"/>
<line x1="556.60" y1="252.00" x2="556.60" y2="377.10" stroke="#8a8a8a" stroke-width="0.5"/>
<text x="300.90" y="266.70" font-size="7.0" fill="#252535" text-anchor="middle" font-weight="bold" font-family="'Liberation Serif', serif" textLength="7.50" lengthAdjust="spacingAndGlyphs" stroke="none">ID</text>
<text x="393.90" y="266.70" font-size="7.0" fill="#252535" text-anchor="middle" font-weight="bold" font-family="'Liberation Serif', serif" textLength="29.70" lengthAdjust="spacingAndGlyphs" stroke="none">Sequence</text>
<text x="475.30" y="266.70" font-size="7.0" fill="#252535" text-anchor="middle" font-weight="bold" font-family="'Liberation Serif', serif" textLength="18.40" lengthAdjust="spacingAndGlyphs" stroke="none">Start</text>
<text x="498.80" y="266.70" font-size="7.0" fill="#252535" text-anchor="middle" font-weight="bold" font-family="'Liberation Serif', serif" textLength="10.60" lengthAdjust="spacingAndGlyphs" stroke="none">End</text>
<text x="533.60" y="260.60" font-size="7.0" fill="#252535" text-anchor="middle" font-weight="bold" font-family="'Liberation Serif', serif" textLength="18.10" lengthAdjust="spacingAndGlyphs" stroke="none">Score</text>
<text x="533.60" y="267.50" font-size="6.0" fill="#252535" text-anchor="middle" font-weight="bold" font-family="'Liberation Serif', serif" textLength="35.00" lengthAdjust="spacingAndGlyphs" stroke="none">thresholds:</text>
<text x="533.60" y="273.30" font-size="6.0" fill="#252535" text-anchor="middle" font-weight="bold" font-family="'Liberation Serif', serif" textLength="20.00" lengthAdjust="spacingAndGlyphs" stroke="none">0.1957</text>
<text x="300.30" y="328.80" font-size="6.3" fill="#222" text-anchor="middle" font-weight="normal" textLength="26.30" lengthAdjust="spacingAndGlyphs">Ulk1-CDS</text>
<text x="475.40" y="328.80" font-size="6.0" fill="#222" text-anchor="middle" font-weight="normal" textLength="11.80" lengthAdjust="spacingAndGlyphs">1208</text>
<text x="498.70" y="328.80" font-size="6.0" fill="#222" text-anchor="middle" font-weight="normal" textLength="11.80" lengthAdjust="spacingAndGlyphs">1222</text>
<text x="533.80" y="328.80" font-size="6.0" fill="#222" text-anchor="middle" font-weight="normal" textLength="16.50" lengthAdjust="spacingAndGlyphs">0.2050</text>
<text x="325.00" y="282.90" font-size="6.9" fill="#1a1a1a" text-anchor="start" font-weight="normal" textLength="137.55" lengthAdjust="spacingAndGlyphs" stroke="#1a1a1a" stroke-width="0.18">CTTTCTTCAGGGCTCCCGGGACTCTGGTGGCAGCA</text>
<text x="325.00" y="290.57" font-size="6.9" fill="#1a1a1a" text-anchor="start" font-weight="normal" textLength="137.55" lengthAdjust="spacingAndGlyphs" stroke="#1a1a1a" stroke-width="0.18">GCAAAGACTCCTGTGACACAGATGACTTTGTCATG</text>
<text x="325.00" y="298.24" font-size="6.9" fill="#1a1a1a" text-anchor="start" font-weight="normal" textLength="137.55" lengthAdjust="spacingAndGlyphs" stroke="#1a1a1a" stroke-width="0.18">GTCCCAGCCCAGTTTCCAGGTGATCTAGTTGCTGA</text>
<text x="325.00" y="305.91" font-size="6.9" fill="#1a1a1a" text-anchor="start" font-weight="normal" textLength="133.62" lengthAdjust="spacingAndGlyphs" stroke="#1a1a1a" stroke-width="0.18">GGCAGCCAGTGCCAAGCCCCCACCTGATAGCCTG</text>
<text x="325.00" y="313.58" font-size="6.9" fill="#1a1a1a" text-anchor="start" font-weight="normal" textLength="137.55" lengthAdjust="spacingAndGlyphs" stroke="#1a1a1a" stroke-width="0.18">CTGTGTAGTGGGAGCTCATTGGTGGCCTCTGCTGG</text>
<text x="325.00" y="321.25" font-size="6.9" fill="#1a1a1a" text-anchor="start" font-weight="normal" textLength="102.18" lengthAdjust="spacingAndGlyphs" stroke="#1a1a1a" stroke-width="0.18">CCTAGAGAGCCACGGCCGTACCCCCT</text>
<text x="427.18" y="321.25" font-size="6.9" fill="#e3703c" text-anchor="start" font-weight="normal" textLength="31.44" lengthAdjust="spacingAndGlyphs" stroke="#e3703c" stroke-width="0.18">CTCCCTCT</text>
<text x="325.00" y="328.92" font-size="6.9" fill="#e3703c" text-anchor="start" font-weight="normal" textLength="27.51" lengthAdjust="spacingAndGlyphs" stroke="#e3703c" stroke-width="0.18">CCGACCT</text>
<text x="352.51" y="328.92" font-size="6.9" fill="#1a1a1a" text-anchor="start" font-weight="normal" textLength="106.11" lengthAdjust="spacingAndGlyphs" stroke="#1a1a1a" stroke-width="0.18">GCAGCAGCTCTCCCAGCCCCTCTGGCC</text>
<text x="325.00" y="336.59" font-size="6.9" fill="#1a1a1a" text-anchor="start" font-weight="normal" textLength="133.62" lengthAdjust="spacingAndGlyphs" stroke="#1a1a1a" stroke-width="0.18">GGCCTGGCCCCTTCTCCAGCAACAGGTACGGTGC</text>
<text x="325.00" y="344.26" font-size="6.9" fill="#1a1a1a" text-anchor="start" font-weight="normal" textLength="137.55" lengthAdjust="spacingAndGlyphs" stroke="#1a1a1a" stroke-width="0.18">CTCGGTCCCCATTCCTGTCCCCACTCAGGTGCACA</text>
<text x="325.00" y="351.93" font-size="6.9" fill="#1a1a1a" text-anchor="start" font-weight="normal" textLength="133.62" lengthAdjust="spacingAndGlyphs" stroke="#1a1a1a" stroke-width="0.18">ATTACCAGCGCATCGAGCAAAACCTGCAATCGCC</text>
<text x="325.00" y="359.60" font-size="6.9" fill="#1a1a1a" text-anchor="start" font-weight="normal" textLength="133.62" lengthAdjust="spacingAndGlyphs" stroke="#1a1a1a" stroke-width="0.18">CACTCAACAGCAGACAGCCAGGTCCTCTGCCATC</text>
<text x="325.00" y="367.27" font-size="6.9" fill="#1a1a1a" text-anchor="start" font-weight="normal" textLength="133.62" lengthAdjust="spacingAndGlyphs" stroke="#1a1a1a" stroke-width="0.18">CGAAGGTCAGGGAGCACCAGCCCCCTGGGCTTTG</text>
<text x="325.00" y="374.94" font-size="6.9" fill="#1a1a1a" text-anchor="start" font-weight="normal" textLength="7.86" lengthAdjust="spacingAndGlyphs" stroke="#1a1a1a" stroke-width="0.18">GC</text>
<text x="586.10" y="183.50" font-size="12" fill="#000" text-anchor="start" font-weight="bold">f</text>
<circle cx="614.70" cy="230.80" r="2.00" fill="#7199dc"/>
<circle cx="614.70" cy="244.90" r="2.00" fill="#ff0000"/>
<text x="624.80" y="232.90" font-size="6.4" fill="#222" text-anchor="start" font-weight="normal" textLength="33.39" lengthAdjust="spacingAndGlyphs" stroke="#222" stroke-width="0.12">Control mice</text>
<text x="624.80" y="247.00" font-size="6.4" fill="#222" text-anchor="start" font-weight="normal" textLength="28.65" lengthAdjust="spacingAndGlyphs" stroke="#222" stroke-width="0.12">NAT10-OE</text>
<text x="639.40" y="262.90" font-size="5.9" fill="#000" text-anchor="middle" font-weight="bold" textLength="42.80" lengthAdjust="spacingAndGlyphs" stroke="#000" stroke-width="0.22">ac4C-RIP-qPCR</text>
<line x1="612.70" y1="285.70" x2="612.70" y2="358.45" stroke="#222" stroke-width="1.1"/>
<line x1="610.90" y1="358.00" x2="612.70" y2="358.00" stroke="#222" stroke-width="0.8"/>
<text x="608.90" y="359.95" font-size="5.9" fill="#111" text-anchor="end" font-weight="bold" stroke="#111" stroke-width="0.22">0</text>
<line x1="610.90" y1="343.60" x2="612.70" y2="343.60" stroke="#222" stroke-width="0.8"/>
<text x="608.90" y="345.55" font-size="5.9" fill="#111" text-anchor="end" font-weight="bold" stroke="#111" stroke-width="0.22">2</text>
<line x1="610.90" y1="329.20" x2="612.70" y2="329.20" stroke="#222" stroke-width="0.8"/>
<text x="608.90" y="331.15" font-size="5.9" fill="#111" text-anchor="end" font-weight="bold" stroke="#111" stroke-width="0.22">4</text>
<line x1="610.90" y1="314.80" x2="612.70" y2="314.80" stroke="#222" stroke-width="0.8"/>
<text x="608.90" y="316.75" font-size="5.9" fill="#111" text-anchor="end" font-weight="bold" stroke="#111" stroke-width="0.22">6</text>
<line x1="610.90" y1="300.40" x2="612.70" y2="300.40" stroke="#222" stroke-width="0.8"/>
<text x="608.90" y="302.35" font-size="5.9" fill="#111" text-anchor="end" font-weight="bold" stroke="#111" stroke-width="0.22">8</text>
<line x1="610.90" y1="286.00" x2="612.70" y2="286.00" stroke="#222" stroke-width="0.8"/>
<text x="608.90" y="287.95" font-size="5.9" fill="#111" text-anchor="end" font-weight="bold" stroke="#111" stroke-width="0.22">10</text>
<path d="M616.00 358.00 V351.52 H623.40 V358.00" stroke="#7ba0dc" stroke-width="1.1" fill="#fff"/>
<line x1="619.70" y1="351.52" x2="619.70" y2="349.72" stroke="#7ba0dc" stroke-width="0.8"/>
<line x1="617.90" y1="349.72" x2="621.50" y2="349.72" stroke="#7ba0dc" stroke-width="0.8"/>
<path d="M627.20 358.00 V312.64 H634.80 V358.00" stroke="#ff1a1a" stroke-width="1.1" fill="#fff"/>
<line x1="631.00" y1="312.64" x2="631.00" y2="306.16" stroke="#ff1a1a" stroke-width="0.8"/>
<line x1="629.20" y1="306.16" x2="632.80" y2="306.16" stroke="#ff1a1a" stroke-width="0.8"/>
<path d="M645.60 358.00 V356.42 H652.20 V358.00" stroke="#7ba0dc" stroke-width="1.1" fill="#fff"/>
<line x1="648.90" y1="356.42" x2="648.90" y2="355.84" stroke="#7ba0dc" stroke-width="0.8"/>
<line x1="647.10" y1="355.84" x2="650.70" y2="355.84" stroke="#7ba0dc" stroke-width="0.8"/>
<path d="M655.80 358.00 V315.52 H663.40 V358.00" stroke="#ff1a1a" stroke-width="1.1" fill="#fff"/>
<line x1="659.60" y1="315.52" x2="659.60" y2="313.00" stroke="#ff1a1a" stroke-width="0.8"/>
<line x1="657.80" y1="313.00" x2="661.40" y2="313.00" stroke="#ff1a1a" stroke-width="0.8"/>
<circle cx="621.52" cy="348.64" r="1.90" fill="#7199dc"/>
<circle cx="621.49" cy="350.08" r="1.90" fill="#7199dc"/>
<circle cx="617.93" cy="351.52" r="1.90" fill="#7199dc"/>
<circle cx="618.04" cy="352.24" r="1.90" fill="#7199dc"/>
<circle cx="621.04" cy="353.68" r="1.90" fill="#7199dc"/>
<circle cx="620.64" cy="354.40" r="1.90" fill="#7199dc"/>
<circle cx="629.69" cy="300.40" r="1.90" fill="#ff0000"/>
<circle cx="631.22" cy="309.04" r="1.90" fill="#ff0000"/>
<circle cx="630.35" cy="311.92" r="1.90" fill="#ff0000"/>
<circle cx="631.52" cy="314.08" r="1.90" fill="#ff0000"/>
<circle cx="631.63" cy="315.52" r="1.90" fill="#ff0000"/>
<circle cx="628.83" cy="318.40" r="1.90" fill="#ff0000"/>
<circle cx="647.84" cy="355.84" r="1.90" fill="#7199dc"/>
<circle cx="647.31" cy="356.20" r="1.90" fill="#7199dc"/>
<circle cx="648.48" cy="356.56" r="1.90" fill="#7199dc"/>
<circle cx="647.52" cy="356.70" r="1.90" fill="#7199dc"/>
<circle cx="647.17" cy="356.92" r="1.90" fill="#7199dc"/>
<circle cx="660.17" cy="313.36" r="1.90" fill="#ff0000"/>
<circle cx="660.71" cy="314.80" r="1.90" fill="#ff0000"/>
<circle cx="660.96" cy="315.52" r="1.90" fill="#ff0000"/>
<circle cx="661.64" cy="316.24" r="1.90" fill="#ff0000"/>
<circle cx="660.70" cy="317.68" r="1.90" fill="#ff0000"/>
<circle cx="661.54" cy="320.56" r="1.90" fill="#ff0000"/>
<line x1="612.70" y1="358.00" x2="666.80" y2="358.00" stroke="#222" stroke-width="1.1"/>
<line x1="625.50" y1="358.00" x2="625.50" y2="359.80" stroke="#222" stroke-width="0.8"/>
<text x="625.50" y="367.80" font-size="6.1" fill="#111" text-anchor="middle" font-weight="bold" stroke="#111" stroke-width="0.22">Sham</text>
<line x1="653.80" y1="358.00" x2="653.80" y2="359.80" stroke="#222" stroke-width="0.8"/>
<text x="653.80" y="367.80" font-size="6.1" fill="#111" text-anchor="middle" font-weight="bold" stroke="#111" stroke-width="0.22">CLP</text>
<path d="M620.00 295.40 V292.40 H632.00 V295.40" stroke="#333" stroke-width="0.75" fill="none"/>
<circle cx="622.05" cy="289.30" r="1.10" fill="#222"/>
<circle cx="626.00" cy="289.30" r="1.10" fill="#222"/>
<circle cx="629.95" cy="289.30" r="1.10" fill="#222"/>
<path d="M620.00 283.60 V280.60 H648.50 V283.60" stroke="#333" stroke-width="0.75" fill="none"/>
<circle cx="630.30" cy="277.50" r="1.10" fill="#222"/>
<circle cx="634.25" cy="277.50" r="1.10" fill="#222"/>
<circle cx="638.20" cy="277.50" r="1.10" fill="#222"/>
<path d="M648.50 307.40 V304.40 H660.00 V307.40" stroke="#333" stroke-width="0.75" fill="none"/>
<circle cx="650.30" cy="301.30" r="1.10" fill="#222"/>
<circle cx="654.25" cy="301.30" r="1.10" fill="#222"/>
<circle cx="658.20" cy="301.30" r="1.10" fill="#222"/>
<text x="590.30" y="321.70" font-size="6.0" fill="#111" text-anchor="middle" font-weight="bold" transform="rotate(-90 590.30 321.70)" stroke="#111" stroke-width="0.22">Relative enrichment of</text>
<text x="596.20" y="321.70" font-size="6.0" fill="#111" text-anchor="middle" font-weight="bold" transform="rotate(-90 596.20 321.70)" stroke="#111" stroke-width="0.22">ULK1 mRNA</text>
<text x="8.10" y="420.60" font-size="12" fill="#000" text-anchor="start" font-weight="bold">g</text>
<circle cx="15.70" cy="426.70" r="2.00" fill="#7199dc"/>
<circle cx="15.70" cy="440.30" r="2.00" fill="#ff0000"/>
<text x="25.80" y="428.80" font-size="6.4" fill="#222" text-anchor="start" font-weight="normal" textLength="33.39" lengthAdjust="spacingAndGlyphs" stroke="#222" stroke-width="0.12">Control mice</text>
<text x="25.80" y="442.40" font-size="6.4" fill="#222" text-anchor="start" font-weight="normal" textLength="28.65" lengthAdjust="spacingAndGlyphs" stroke="#222" stroke-width="0.12">NAT10-OE</text>
<line x1="35.60" y1="461.02" x2="35.60" y2="533.65" stroke="#222" stroke-width="1.1"/>
<line x1="33.80" y1="533.20" x2="35.60" y2="533.20" stroke="#222" stroke-width="0.8"/>
<text x="31.80" y="535.15" font-size="5.9" fill="#111" text-anchor="end" font-weight="bold" stroke="#111" stroke-width="0.22">0</text>
<line x1="33.80" y1="515.23" x2="35.60" y2="515.23" stroke="#222" stroke-width="0.8"/>
<text x="31.80" y="517.18" font-size="5.9" fill="#111" text-anchor="end" font-weight="bold" stroke="#111" stroke-width="0.22">1</text>
<line x1="33.80" y1="497.26" x2="35.60" y2="497.26" stroke="#222" stroke-width="0.8"/>
<text x="31.80" y="499.21" font-size="5.9" fill="#111" text-anchor="end" font-weight="bold" stroke="#111" stroke-width="0.22">2</text>
<line x1="33.80" y1="479.29" x2="35.60" y2="479.29" stroke="#222" stroke-width="0.8"/>
<text x="31.80" y="481.24" font-size="5.9" fill="#111" text-anchor="end" font-weight="bold" stroke="#111" stroke-width="0.22">3</text>
<line x1="33.80" y1="461.32" x2="35.60" y2="461.32" stroke="#222" stroke-width="0.8"/>
<text x="31.80" y="463.27" font-size="5.9" fill="#111" text-anchor="end" font-weight="bold" stroke="#111" stroke-width="0.22">4</text>
<path d="M39.90 533.20 V516.13 H46.50 V533.20" stroke="#7ba0dc" stroke-width="1.1" fill="#fff"/>
<line x1="43.20" y1="516.13" x2="43.20" y2="511.64" stroke="#7ba0dc" stroke-width="0.8"/>
<line x1="41.40" y1="511.64" x2="45.00" y2="511.64" stroke="#7ba0dc" stroke-width="0.8"/>
<path d="M50.40 533.20 V480.19 H57.30 V533.20" stroke="#ff1a1a" stroke-width="1.1" fill="#fff"/>
<line x1="53.85" y1="480.19" x2="53.85" y2="477.49" stroke="#ff1a1a" stroke-width="0.8"/>
<line x1="52.05" y1="477.49" x2="55.65" y2="477.49" stroke="#ff1a1a" stroke-width="0.8"/>
<path d="M68.60 533.20 V528.53 H75.40 V533.20" stroke="#7ba0dc" stroke-width="1.1" fill="#fff"/>
<line x1="72.00" y1="528.53" x2="72.00" y2="527.09" stroke="#7ba0dc" stroke-width="0.8"/>
<line x1="70.20" y1="527.09" x2="73.80" y2="527.09" stroke="#7ba0dc" stroke-width="0.8"/>
<path d="M79.20 533.20 V479.29 H86.00 V533.20" stroke="#ff1a1a" stroke-width="1.1" fill="#fff"/>
<line x1="82.60" y1="479.29" x2="82.60" y2="475.70" stroke="#ff1a1a" stroke-width="0.8"/>
<line x1="80.80" y1="475.70" x2="84.40" y2="475.70" stroke="#ff1a1a" stroke-width="0.8"/>
<circle cx="42.57" cy="506.25" r="1.90" fill="#7199dc"/>
<circle cx="41.94" cy="510.74" r="1.90" fill="#7199dc"/>
<circle cx="43.74" cy="514.33" r="1.90" fill="#7199dc"/>
<circle cx="41.66" cy="516.13" r="1.90" fill="#7199dc"/>
<circle cx="43.33" cy="519.72" r="1.90" fill="#7199dc"/>
<circle cx="42.72" cy="522.42" r="1.90" fill="#7199dc"/>
<circle cx="52.49" cy="477.49" r="1.90" fill="#ff0000"/>
<circle cx="56.02" cy="478.39" r="1.90" fill="#ff0000"/>
<circle cx="52.01" cy="479.29" r="1.90" fill="#ff0000"/>
<circle cx="54.78" cy="480.19" r="1.90" fill="#ff0000"/>
<circle cx="51.81" cy="481.99" r="1.90" fill="#ff0000"/>
<circle cx="52.59" cy="483.78" r="1.90" fill="#ff0000"/>
<circle cx="71.84" cy="526.91" r="1.90" fill="#7199dc"/>
<circle cx="71.44" cy="527.81" r="1.90" fill="#7199dc"/>
<circle cx="70.41" cy="528.53" r="1.90" fill="#7199dc"/>
<circle cx="73.61" cy="529.25" r="1.90" fill="#7199dc"/>
<circle cx="69.83" cy="529.61" r="1.90" fill="#7199dc"/>
<circle cx="82.91" cy="473.90" r="1.90" fill="#ff0000"/>
<circle cx="82.29" cy="476.59" r="1.90" fill="#ff0000"/>
<circle cx="82.94" cy="478.39" r="1.90" fill="#ff0000"/>
<circle cx="81.31" cy="479.29" r="1.90" fill="#ff0000"/>
<circle cx="83.98" cy="480.19" r="1.90" fill="#ff0000"/>
<circle cx="84.02" cy="481.09" r="1.90" fill="#ff0000"/>
<line x1="35.60" y1="533.20" x2="90.00" y2="533.20" stroke="#222" stroke-width="1.1"/>
<line x1="48.40" y1="533.20" x2="48.40" y2="535.00" stroke="#222" stroke-width="0.8"/>
<text x="48.40" y="543.00" font-size="6.1" fill="#111" text-anchor="middle" font-weight="bold" stroke="#111" stroke-width="0.22">Sham</text>
<line x1="76.90" y1="533.20" x2="76.90" y2="535.00" stroke="#222" stroke-width="0.8"/>
<text x="76.90" y="543.00" font-size="6.1" fill="#111" text-anchor="middle" font-weight="bold" stroke="#111" stroke-width="0.22">CLP</text>
<path d="M41.70 470.80 V467.80 H54.40 V470.80" stroke="#333" stroke-width="0.75" fill="none"/>
<circle cx="46.07" cy="464.70" r="1.10" fill="#222"/>
<circle cx="50.02" cy="464.70" r="1.10" fill="#222"/>
<path d="M70.70 470.80 V467.80 H82.60 V470.80" stroke="#333" stroke-width="0.75" fill="none"/>
<circle cx="72.70" cy="464.70" r="1.10" fill="#222"/>
<circle cx="76.65" cy="464.70" r="1.10" fill="#222"/>
<circle cx="80.60" cy="464.70" r="1.10" fill="#222"/>
<text x="17.80" y="497.00" font-size="6.0" fill="#111" text-anchor="middle" font-weight="bold" transform="rotate(-90 17.80 497.00)" textLength="77.00" lengthAdjust="spacingAndGlyphs" stroke="#111" stroke-width="0.22">Relative mRNA expression</text>
<text x="23.30" y="497.00" font-size="6.0" fill="#111" text-anchor="middle" font-weight="bold" transform="rotate(-90 23.30 497.00)" textLength="58.00" lengthAdjust="spacingAndGlyphs" stroke="#111" stroke-width="0.22">ULK1 versus GAPDH</text>
<text x="99.20" y="420.50" font-size="12" fill="#000" text-anchor="start" font-weight="bold">h</text>
<rect x="113.00" y="461.20" width="87.20" height="14.30" fill="#f4f4f4" stroke="#333" stroke-width="0.9"/>
<rect x="113.00" y="477.20" width="87.20" height="16.80" fill="#f4f4f4" stroke="#333" stroke-width="0.9"/>
<rect x="113.00" y="496.20" width="87.20" height="16.40" fill="#f4f4f4" stroke="#333" stroke-width="0.9"/>
<g filter="url(#blurB)">
<rect x="116.70" y="465.6" width="14.60" height="3.4" rx="1.7" fill="#4a4a4a"/>
<rect x="116.70" y="482.6" width="14.60" height="3.3" rx="1.6" fill="#7a7a7a"/>
<rect x="137.10" y="465.6" width="14.60" height="3.4" rx="1.7" fill="#b4b4b4"/>
<rect x="137.10" y="482.6" width="14.60" height="3.3" rx="1.6" fill="#c6c6c6"/>
<rect x="159.70" y="465.6" width="13.90" height="3.4" rx="1.7" fill="#141414"/>
<rect x="159.70" y="482.6" width="13.90" height="3.3" rx="1.6" fill="#5e5e5e"/>
<rect x="179.50" y="465.6" width="15.30" height="3.4" rx="1.7" fill="#141414"/>
<rect x="179.50" y="482.6" width="15.30" height="3.3" rx="1.6" fill="#808080"/>
<rect x="115.50" y="503.1" width="18.00" height="2.6" rx="1.3" fill="#2a2a2a"/>
<rect x="136.60" y="503.1" width="18.40" height="2.6" rx="1.3" fill="#2a2a2a"/>
<rect x="158.50" y="503.1" width="17.80" height="2.6" rx="1.3" fill="#333"/>
<rect x="179.70" y="503.1" width="18.30" height="2.6" rx="1.3" fill="#2a2a2a"/>
</g>
<ellipse cx="166.6" cy="487.6" rx="5.5" ry="1.8" fill="#aaa" filter="url(#blur1)" opacity="0.55"/>
<text x="126.10" y="456.30" font-size="5.6" fill="#111" text-anchor="start" font-weight="bold" transform="rotate(-45 126.10 456.30)" stroke="#111" stroke-width="0.22">Sham</text>
<text x="144.60" y="455.30" font-size="5.6" fill="#111" text-anchor="start" font-weight="bold" transform="rotate(-45 144.60 455.30)" stroke="#111" stroke-width="0.22">CLP</text>
<text x="168.40" y="456.30" font-size="5.6" fill="#111" text-anchor="start" font-weight="bold" transform="rotate(-45 168.40 456.30)" stroke="#111" stroke-width="0.22">Sham</text>
<text x="190.30" y="455.30" font-size="5.6" fill="#111" text-anchor="start" font-weight="bold" transform="rotate(-45 190.30 455.30)" stroke="#111" stroke-width="0.22">CLP</text>
<text x="110.20" y="469.00" font-size="4.6" fill="#111" text-anchor="end" font-weight="bold" textLength="16.60" lengthAdjust="spacingAndGlyphs" stroke="#111" stroke-width="0.22">150 KDa</text>
<line x1="110.60" y1="467.40" x2="113.00" y2="467.40" stroke="#111" stroke-width="0.5"/>
<text x="110.20" y="485.20" font-size="4.6" fill="#111" text-anchor="end" font-weight="bold" textLength="16.60" lengthAdjust="spacingAndGlyphs" stroke="#111" stroke-width="0.22">150 KDa</text>
<line x1="110.60" y1="483.60" x2="113.00" y2="483.60" stroke="#111" stroke-width="0.5"/>
<text x="110.20" y="505.80" font-size="4.6" fill="#111" text-anchor="end" font-weight="bold" textLength="14.60" lengthAdjust="spacingAndGlyphs" stroke="#111" stroke-width="0.22">35 KDa</text>
<line x1="110.60" y1="504.20" x2="113.00" y2="504.20" stroke="#111" stroke-width="0.5"/>
<text x="202.60" y="469.40" font-size="5.7" fill="#111" text-anchor="start" font-weight="bold" stroke="#111" stroke-width="0.22">ULK1</text>
<text x="202.60" y="485.60" font-size="5.7" fill="#111" text-anchor="start" font-weight="bold" stroke="#111" stroke-width="0.22">p-ULK1-S556</text>
<text x="202.60" y="506.20" font-size="5.7" fill="#111" text-anchor="start" font-weight="bold" stroke="#111" stroke-width="0.22">GAPDH</text>
<text x="137.20" y="522.90" font-size="6.0" fill="#111" text-anchor="middle" font-weight="bold" stroke="#111" stroke-width="0.22">Control Mice</text>
<text x="178.90" y="522.90" font-size="6.0" fill="#111" text-anchor="middle" font-weight="bold" stroke="#111" stroke-width="0.22">NAT10-OE</text>
<circle cx="245.30" cy="427.00" r="2.00" fill="#7199dc"/>
<circle cx="245.30" cy="440.30" r="2.00" fill="#ff0000"/>
<text x="255.40" y="429.10" font-size="6.4" fill="#222" text-anchor="start" font-weight="normal" textLength="33.39" lengthAdjust="spacingAndGlyphs" stroke="#222" stroke-width="0.12">Control mice</text>
<text x="255.40" y="442.40" font-size="6.4" fill="#222" text-anchor="start" font-weight="normal" textLength="28.65" lengthAdjust="spacingAndGlyphs" stroke="#222" stroke-width="0.12">NAT10-OE</text>
<line x1="265.10" y1="461.02" x2="265.10" y2="533.65" stroke="#222" stroke-width="1.1"/>
<line x1="263.30" y1="533.20" x2="265.10" y2="533.20" stroke="#222" stroke-width="0.8"/>
<text x="261.30" y="535.15" font-size="5.9" fill="#111" text-anchor="end" font-weight="bold" stroke="#111" stroke-width="0.22">0</text>
<line x1="263.30" y1="515.23" x2="265.10" y2="515.23" stroke="#222" stroke-width="0.8"/>
<text x="261.30" y="517.18" font-size="5.9" fill="#111" text-anchor="end" font-weight="bold" stroke="#111" stroke-width="0.22">1</text>
<line x1="263.30" y1="497.26" x2="265.10" y2="497.26" stroke="#222" stroke-width="0.8"/>
<text x="261.30" y="499.21" font-size="5.9" fill="#111" text-anchor="end" font-weight="bold" stroke="#111" stroke-width="0.22">2</text>
<line x1="263.30" y1="479.29" x2="265.10" y2="479.29" stroke="#222" stroke-width="0.8"/>
<text x="261.30" y="481.24" font-size="5.9" fill="#111" text-anchor="end" font-weight="bold" stroke="#111" stroke-width="0.22">3</text>
<line x1="263.30" y1="461.32" x2="265.10" y2="461.32" stroke="#222" stroke-width="0.8"/>
<text x="261.30" y="463.27" font-size="5.9" fill="#111" text-anchor="end" font-weight="bold" stroke="#111" stroke-width="0.22">4</text>
<path d="M269.30 533.20 V514.69 H275.60 V533.20" stroke="#4a72c2" stroke-width="1.1" fill="#fff"/>
<line x1="272.45" y1="514.69" x2="272.45" y2="511.64" stroke="#4a72c2" stroke-width="0.8"/>
<line x1="270.65" y1="511.64" x2="274.25" y2="511.64" stroke="#4a72c2" stroke-width="0.8"/>
<path d="M280.50 533.20 V481.09 H286.60 V533.20" stroke="#ff1a1a" stroke-width="1.1" fill="#fff"/>
<line x1="283.55" y1="481.09" x2="283.55" y2="475.70" stroke="#ff1a1a" stroke-width="0.8"/>
<line x1="281.75" y1="475.70" x2="285.35" y2="475.70" stroke="#ff1a1a" stroke-width="0.8"/>
<path d="M297.80 533.20 V526.01 H304.70 V533.20" stroke="#4a72c2" stroke-width="1.1" fill="#fff"/>
<line x1="301.25" y1="526.01" x2="301.25" y2="524.57" stroke="#4a72c2" stroke-width="0.8"/>
<line x1="299.45" y1="524.57" x2="303.05" y2="524.57" stroke="#4a72c2" stroke-width="0.8"/>
<path d="M308.60 533.20 V479.29 H315.00 V533.20" stroke="#ff1a1a" stroke-width="1.1" fill="#fff"/>
<line x1="311.80" y1="479.29" x2="311.80" y2="474.80" stroke="#ff1a1a" stroke-width="0.8"/>
<line x1="310.00" y1="474.80" x2="313.60" y2="474.80" stroke="#ff1a1a" stroke-width="0.8"/>
<circle cx="272.26" cy="509.84" r="1.90" fill="#7199dc"/>
<circle cx="272.58" cy="512.53" r="1.90" fill="#7199dc"/>
<circle cx="273.67" cy="514.33" r="1.90" fill="#7199dc"/>
<circle cx="272.30" cy="516.13" r="1.90" fill="#7199dc"/>
<circle cx="272.42" cy="518.82" r="1.90" fill="#7199dc"/>
<circle cx="272.66" cy="519.72" r="1.90" fill="#7199dc"/>
<circle cx="283.40" cy="473.90" r="1.90" fill="#ff0000"/>
<circle cx="284.13" cy="475.70" r="1.90" fill="#ff0000"/>
<circle cx="284.17" cy="479.29" r="1.90" fill="#ff0000"/>
<circle cx="282.07" cy="481.99" r="1.90" fill="#ff0000"/>
<circle cx="281.54" cy="484.68" r="1.90" fill="#ff0000"/>
<circle cx="283.00" cy="486.48" r="1.90" fill="#ff0000"/>
<circle cx="300.24" cy="523.86" r="1.90" fill="#7199dc"/>
<circle cx="301.94" cy="525.11" r="1.90" fill="#7199dc"/>
<circle cx="301.94" cy="526.01" r="1.90" fill="#7199dc"/>
<circle cx="302.60" cy="526.91" r="1.90" fill="#7199dc"/>
<circle cx="299.94" cy="527.81" r="1.90" fill="#7199dc"/>
<circle cx="310.23" cy="472.10" r="1.90" fill="#ff0000"/>
<circle cx="312.61" cy="475.70" r="1.90" fill="#ff0000"/>
<circle cx="312.41" cy="478.39" r="1.90" fill="#ff0000"/>
<circle cx="313.56" cy="480.19" r="1.90" fill="#ff0000"/>
<circle cx="310.88" cy="481.99" r="1.90" fill="#ff0000"/>
<circle cx="310.82" cy="484.68" r="1.90" fill="#ff0000"/>
<line x1="265.10" y1="533.20" x2="316.60" y2="533.20" stroke="#222" stroke-width="1.1"/>
<line x1="277.90" y1="533.20" x2="277.90" y2="535.00" stroke="#222" stroke-width="0.8"/>
<text x="277.90" y="543.00" font-size="6.1" fill="#111" text-anchor="middle" font-weight="bold" stroke="#111" stroke-width="0.22">Sham</text>
<line x1="306.40" y1="533.20" x2="306.40" y2="535.00" stroke="#222" stroke-width="0.8"/>
<text x="306.40" y="543.00" font-size="6.1" fill="#111" text-anchor="middle" font-weight="bold" stroke="#111" stroke-width="0.22">CLP</text>
<path d="M271.00 469.00 V466.00 H284.10 V469.00" stroke="#333" stroke-width="0.75" fill="none"/>
<circle cx="273.60" cy="462.90" r="1.10" fill="#222"/>
<circle cx="277.55" cy="462.90" r="1.10" fill="#222"/>
<circle cx="281.50" cy="462.90" r="1.10" fill="#222"/>
<path d="M300.50 469.00 V466.00 H312.30 V469.00" stroke="#333" stroke-width="0.75" fill="none"/>
<circle cx="302.45" cy="462.90" r="1.10" fill="#222"/>
<circle cx="306.40" cy="462.90" r="1.10" fill="#222"/>
<circle cx="310.35" cy="462.90" r="1.10" fill="#222"/>
<path d="M271.00 456.80 V453.80 H300.50 V456.80" stroke="#333" stroke-width="0.75" fill="none"/>
<circle cx="281.80" cy="450.70" r="1.10" fill="#222"/>
<circle cx="285.75" cy="450.70" r="1.10" fill="#222"/>
<circle cx="289.70" cy="450.70" r="1.10" fill="#222"/>
<text x="245.60" y="497.00" font-size="6.0" fill="#111" text-anchor="middle" font-weight="bold" transform="rotate(-90 245.60 497.00)" textLength="79.00" lengthAdjust="spacingAndGlyphs" stroke="#111" stroke-width="0.22">Relative protein expression</text>
<text x="250.90" y="497.00" font-size="6.0" fill="#111" text-anchor="middle" font-weight="bold" transform="rotate(-90 250.90 497.00)" textLength="62.00" lengthAdjust="spacingAndGlyphs" stroke="#111" stroke-width="0.22">ULK1 versus GAPDH</text>
<circle cx="336.70" cy="427.00" r="2.00" fill="#7199dc"/>
<circle cx="336.70" cy="440.30" r="2.00" fill="#ff0000"/>
<text x="346.80" y="429.10" font-size="6.4" fill="#222" text-anchor="start" font-weight="normal" textLength="33.39" lengthAdjust="spacingAndGlyphs" stroke="#222" stroke-width="0.12">Control mice</text>
<text x="346.80" y="442.40" font-size="6.4" fill="#222" text-anchor="start" font-weight="normal" textLength="28.65" lengthAdjust="spacingAndGlyphs" stroke="#222" stroke-width="0.12">NAT10-OE</text>
<line x1="357.90" y1="461.05" x2="357.90" y2="533.65" stroke="#222" stroke-width="1.1"/>
<line x1="356.10" y1="533.20" x2="357.90" y2="533.20" stroke="#222" stroke-width="0.8"/>
<text x="354.10" y="535.15" font-size="5.9" fill="#111" text-anchor="end" font-weight="bold" stroke="#111" stroke-width="0.22">0.0</text>
<line x1="356.10" y1="509.25" x2="357.90" y2="509.25" stroke="#222" stroke-width="0.8"/>
<text x="354.10" y="511.20" font-size="5.9" fill="#111" text-anchor="end" font-weight="bold" stroke="#111" stroke-width="0.22">0.5</text>
<line x1="356.10" y1="485.30" x2="357.90" y2="485.30" stroke="#222" stroke-width="0.8"/>
<text x="354.10" y="487.25" font-size="5.9" fill="#111" text-anchor="end" font-weight="bold" stroke="#111" stroke-width="0.22">1.0</text>
<line x1="356.10" y1="461.35" x2="357.90" y2="461.35" stroke="#222" stroke-width="0.8"/>
<text x="354.10" y="463.30" font-size="5.9" fill="#111" text-anchor="end" font-weight="bold" stroke="#111" stroke-width="0.22">1.5</text>
<path d="M361.10 533.20 V485.30 H367.60 V533.20" stroke="#4a72c2" stroke-width="1.1" fill="#fff"/>
<line x1="364.35" y1="485.30" x2="364.35" y2="482.43" stroke="#4a72c2" stroke-width="0.8"/>
<line x1="362.55" y1="482.43" x2="366.15" y2="482.43" stroke="#4a72c2" stroke-width="0.8"/>
<path d="M371.30 533.20 V489.61 H378.50 V533.20" stroke="#ff1a1a" stroke-width="1.1" fill="#fff"/>
<line x1="374.90" y1="489.61" x2="374.90" y2="481.95" stroke="#ff1a1a" stroke-width="0.8"/>
<line x1="373.10" y1="481.95" x2="376.70" y2="481.95" stroke="#ff1a1a" stroke-width="0.8"/>
<path d="M389.70 533.20 V518.83 H396.70 V533.20" stroke="#4a72c2" stroke-width="1.1" fill="#fff"/>
<line x1="393.20" y1="518.83" x2="393.20" y2="515.96" stroke="#4a72c2" stroke-width="0.8"/>
<line x1="391.40" y1="515.96" x2="395.00" y2="515.96" stroke="#4a72c2" stroke-width="0.8"/>
<path d="M400.40 533.20 V493.44 H407.40 V533.20" stroke="#ff1a1a" stroke-width="1.1" fill="#fff"/>
<line x1="403.90" y1="493.44" x2="403.90" y2="490.09" stroke="#ff1a1a" stroke-width="0.8"/>
<line x1="402.10" y1="490.09" x2="405.70" y2="490.09" stroke="#ff1a1a" stroke-width="0.8"/>
<circle cx="365.79" cy="481.95" r="1.90" fill="#7199dc"/>
<circle cx="362.74" cy="483.38" r="1.90" fill="#7199dc"/>
<circle cx="365.06" cy="485.30" r="1.90" fill="#7199dc"/>
<circle cx="363.21" cy="486.74" r="1.90" fill="#7199dc"/>
<circle cx="365.86" cy="487.70" r="1.90" fill="#7199dc"/>
<circle cx="374.35" cy="476.68" r="1.90" fill="#ff0000"/>
<circle cx="374.82" cy="485.30" r="1.90" fill="#ff0000"/>
<circle cx="374.57" cy="490.09" r="1.90" fill="#ff0000"/>
<circle cx="374.69" cy="492.49" r="1.90" fill="#ff0000"/>
<circle cx="374.54" cy="493.92" r="1.90" fill="#ff0000"/>
<circle cx="375.53" cy="494.88" r="1.90" fill="#ff0000"/>
<circle cx="393.29" cy="513.56" r="1.90" fill="#7199dc"/>
<circle cx="394.43" cy="517.87" r="1.90" fill="#7199dc"/>
<circle cx="395.04" cy="520.27" r="1.90" fill="#7199dc"/>
<circle cx="392.36" cy="521.23" r="1.90" fill="#7199dc"/>
<circle cx="402.63" cy="486.74" r="1.90" fill="#ff0000"/>
<circle cx="404.55" cy="492.01" r="1.90" fill="#ff0000"/>
<circle cx="403.24" cy="493.92" r="1.90" fill="#ff0000"/>
<circle cx="402.69" cy="495.84" r="1.90" fill="#ff0000"/>
<circle cx="403.86" cy="498.71" r="1.90" fill="#ff0000"/>
<circle cx="403.88" cy="500.63" r="1.90" fill="#ff0000"/>
<line x1="357.90" y1="533.20" x2="408.30" y2="533.20" stroke="#222" stroke-width="1.1"/>
<line x1="369.80" y1="533.20" x2="369.80" y2="535.00" stroke="#222" stroke-width="0.8"/>
<text x="369.80" y="543.00" font-size="6.1" fill="#111" text-anchor="middle" font-weight="bold" stroke="#111" stroke-width="0.22">Sham</text>
<line x1="398.50" y1="533.20" x2="398.50" y2="535.00" stroke="#222" stroke-width="0.8"/>
<text x="398.50" y="543.00" font-size="6.1" fill="#111" text-anchor="middle" font-weight="bold" stroke="#111" stroke-width="0.22">CLP</text>
<path d="M365.30 471.20 V468.20 H394.80 V471.20" stroke="#333" stroke-width="0.75" fill="none"/>
<circle cx="376.10" cy="465.10" r="1.10" fill="#222"/>
<circle cx="380.05" cy="465.10" r="1.10" fill="#222"/>
<circle cx="384.00" cy="465.10" r="1.10" fill="#222"/>
<path d="M393.50 482.10 V479.10 H404.70 V482.10" stroke="#333" stroke-width="0.75" fill="none"/>
<circle cx="395.15" cy="476.00" r="1.10" fill="#222"/>
<circle cx="399.10" cy="476.00" r="1.10" fill="#222"/>
<circle cx="403.05" cy="476.00" r="1.10" fill="#222"/>
<text x="332.60" y="497.00" font-size="6.0" fill="#111" text-anchor="middle" font-weight="bold" transform="rotate(-90 332.60 497.00)" textLength="79.00" lengthAdjust="spacingAndGlyphs" stroke="#111" stroke-width="0.22">Relative protein expression</text>
<text x="338.70" y="497.00" font-size="6.0" fill="#111" text-anchor="middle" font-weight="bold" transform="rotate(-90 338.70 497.00)" textLength="77.00" lengthAdjust="spacingAndGlyphs" stroke="#111" stroke-width="0.22">pULK1-S556 versus GAPDH</text>
<text x="423.10" y="420.50" font-size="12" fill="#000" text-anchor="start" font-weight="bold">i</text>
<line x1="451.60" y1="443.10" x2="451.60" y2="533.85" stroke="#222" stroke-width="1.1"/>
<line x1="449.80" y1="503.40" x2="451.60" y2="503.40" stroke="#222" stroke-width="0.8"/>
<text x="447.80" y="505.35" font-size="5.9" fill="#111" text-anchor="end" font-weight="bold" stroke="#111" stroke-width="0.22">0.5</text>
<line x1="449.80" y1="473.40" x2="451.60" y2="473.40" stroke="#222" stroke-width="0.8"/>
<text x="447.80" y="475.35" font-size="5.9" fill="#111" text-anchor="end" font-weight="bold" stroke="#111" stroke-width="0.22">1.0</text>
<line x1="449.80" y1="443.40" x2="451.60" y2="443.40" stroke="#222" stroke-width="0.8"/>
<text x="447.80" y="445.35" font-size="5.9" fill="#111" text-anchor="end" font-weight="bold" stroke="#111" stroke-width="0.22">1.5</text>
<line x1="445.60" y1="533.40" x2="499.30" y2="533.40" stroke="#222" stroke-width="0.9"/>
<line x1="451.60" y1="533.40" x2="451.60" y2="535.20" stroke="#222" stroke-width="0.8"/>
<text x="451.60" y="542.80" font-size="6.0" fill="#111" text-anchor="middle" font-weight="bold" stroke="#111" stroke-width="0.22">0</text>
<line x1="465.08" y1="533.40" x2="465.08" y2="535.20" stroke="#222" stroke-width="0.8"/>
<text x="465.08" y="542.80" font-size="6.0" fill="#111" text-anchor="middle" font-weight="bold" stroke="#111" stroke-width="0.22">2</text>
<line x1="478.56" y1="533.40" x2="478.56" y2="535.20" stroke="#222" stroke-width="0.8"/>
<text x="478.56" y="542.80" font-size="6.0" fill="#111" text-anchor="middle" font-weight="bold" stroke="#111" stroke-width="0.22">4</text>
<line x1="492.04" y1="533.40" x2="492.04" y2="535.20" stroke="#222" stroke-width="0.8"/>
<text x="492.04" y="542.80" font-size="6.0" fill="#111" text-anchor="middle" font-weight="bold" stroke="#111" stroke-width="0.22">6</text>
<text x="475.80" y="552.50" font-size="6.0" fill="#111" text-anchor="middle" font-weight="bold" stroke="#111" stroke-width="0.22">Time (hours)</text>
<line x1="451.60" y1="471.00" x2="492.04" y2="508.80" stroke="#7ba0dc" stroke-width="1.1"/>
<line x1="451.60" y1="471.00" x2="492.04" y2="528.30" stroke="#ff1010" stroke-width="1.1"/>
<circle cx="451.60" cy="466.20" r="1.25" fill="#7ba0dc"/>
<circle cx="451.60" cy="483.00" r="1.25" fill="#7ba0dc"/>
<circle cx="451.60" cy="473.40" r="1.25" fill="#7ba0dc"/>
<circle cx="471.82" cy="481.20" r="1.25" fill="#7ba0dc"/>
<circle cx="471.82" cy="491.40" r="1.25" fill="#7ba0dc"/>
<circle cx="471.82" cy="493.80" r="1.25" fill="#7ba0dc"/>
<circle cx="492.04" cy="508.20" r="1.25" fill="#7ba0dc"/>
<circle cx="492.04" cy="509.40" r="1.25" fill="#7ba0dc"/>
<circle cx="492.04" cy="511.20" r="1.25" fill="#7ba0dc"/>
<rect x="450.30" y="452.90" width="2.60" height="2.60" fill="#ff0000" stroke="none" stroke-width="1"/>
<rect x="450.30" y="467.30" width="2.60" height="2.60" fill="#ff0000" stroke="none" stroke-width="1"/>
<rect x="450.30" y="474.50" width="2.60" height="2.60" fill="#ff0000" stroke="none" stroke-width="1"/>
<rect x="470.52" y="500.90" width="2.60" height="2.60" fill="#ff0000" stroke="none" stroke-width="1"/>
<rect x="470.52" y="509.30" width="2.60" height="2.60" fill="#ff0000" stroke="none" stroke-width="1"/>
<rect x="470.52" y="512.30" width="2.60" height="2.60" fill="#ff0000" stroke="none" stroke-width="1"/>
<rect x="490.74" y="524.90" width="2.60" height="2.60" fill="#ff0000" stroke="none" stroke-width="1"/>
<rect x="490.74" y="526.10" width="2.60" height="2.60" fill="#ff0000" stroke="none" stroke-width="1"/>
<rect x="490.74" y="527.30" width="2.60" height="2.60" fill="#ff0000" stroke="none" stroke-width="1"/>
<line x1="455.70" y1="434.00" x2="466.40" y2="434.00" stroke="#7ba0dc" stroke-width="0.9"/>
<circle cx="461.00" cy="434.00" r="1.20" fill="#7ba0dc"/>
<text x="470.90" y="436.00" font-size="5.5" fill="#111" text-anchor="start" font-weight="bold" stroke="#111" stroke-width="0.22">Blank</text>
<line x1="455.70" y1="444.10" x2="466.40" y2="444.10" stroke="#ff1010" stroke-width="1.0"/>
<rect x="459.70" y="442.80" width="2.60" height="2.60" fill="#ff0000" stroke="none" stroke-width="1"/>
<text x="470.90" y="446.10" font-size="5.5" fill="#111" text-anchor="start" font-weight="bold" stroke="#111" stroke-width="0.22">Remodelin</text>
<text x="427.80" y="487.00" font-size="6.0" fill="#111" text-anchor="middle" font-weight="bold" transform="rotate(-90 427.80 487.00)" textLength="75.00" lengthAdjust="spacingAndGlyphs" stroke="#111" stroke-width="0.22">RelativemRNA expression</text>
<text x="434.00" y="487.00" font-size="6.0" fill="#111" text-anchor="middle" font-weight="bold" transform="rotate(-90 434.00 487.00)" textLength="58.00" lengthAdjust="spacingAndGlyphs" stroke="#111" stroke-width="0.22">ULK1 versus GAPDH</text>
<text x="513.30" y="420.60" font-size="12" fill="#000" text-anchor="start" font-weight="bold">j</text>
<circle cx="542.50" cy="429.20" r="2.00" fill="#7199dc"/>
<circle cx="542.50" cy="442.20" r="2.00" fill="#ff0000"/>
<text x="552.60" y="431.30" font-size="6.4" fill="#222" text-anchor="start" font-weight="normal" textLength="41.01" lengthAdjust="spacingAndGlyphs" stroke="#222" stroke-width="0.12">Healthy Control</text>
<text x="552.60" y="444.30" font-size="6.4" fill="#222" text-anchor="start" font-weight="normal" textLength="17.86" lengthAdjust="spacingAndGlyphs" stroke="#222" stroke-width="0.12">Sepsis</text>
<line x1="542.80" y1="463.20" x2="542.80" y2="535.25" stroke="#222" stroke-width="1.1"/>
<line x1="541.00" y1="534.80" x2="542.80" y2="534.80" stroke="#222" stroke-width="0.8"/>
<text x="539.00" y="536.75" font-size="5.9" fill="#111" text-anchor="end" font-weight="bold" stroke="#111" stroke-width="0.22">0.0</text>
<line x1="541.00" y1="516.97" x2="542.80" y2="516.97" stroke="#222" stroke-width="0.8"/>
<text x="539.00" y="518.92" font-size="5.9" fill="#111" text-anchor="end" font-weight="bold" stroke="#111" stroke-width="0.22">0.5</text>
<line x1="541.00" y1="499.15" x2="542.80" y2="499.15" stroke="#222" stroke-width="0.8"/>
<text x="539.00" y="501.10" font-size="5.9" fill="#111" text-anchor="end" font-weight="bold" stroke="#111" stroke-width="0.22">1.0</text>
<line x1="541.00" y1="481.32" x2="542.80" y2="481.32" stroke="#222" stroke-width="0.8"/>
<text x="539.00" y="483.27" font-size="5.9" fill="#111" text-anchor="end" font-weight="bold" stroke="#111" stroke-width="0.22">1.5</text>
<line x1="541.00" y1="463.50" x2="542.80" y2="463.50" stroke="#222" stroke-width="0.8"/>
<text x="539.00" y="465.45" font-size="5.9" fill="#111" text-anchor="end" font-weight="bold" stroke="#111" stroke-width="0.22">2.0</text>
<path d="M550.30 534.80 V499.15 H565.30 V534.80" stroke="#4a72c2" stroke-width="1.1" fill="#fff"/>
<line x1="557.80" y1="499.15" x2="557.80" y2="488.45" stroke="#4a72c2" stroke-width="0.8"/>
<line x1="556.00" y1="488.45" x2="559.60" y2="488.45" stroke="#4a72c2" stroke-width="0.8"/>
<path d="M573.50 534.80 V523.39 H588.50 V534.80" stroke="#ff1a1a" stroke-width="1.1" fill="#fff"/>
<line x1="581.00" y1="523.39" x2="581.00" y2="520.54" stroke="#ff1a1a" stroke-width="0.8"/>
<line x1="579.20" y1="520.54" x2="582.80" y2="520.54" stroke="#ff1a1a" stroke-width="0.8"/>
<line x1="554.80" y1="488.45" x2="560.80" y2="488.45" stroke="#4a72c2" stroke-width="0.8"/>
<circle cx="557.80" cy="475.98" r="1.75" fill="#7199dc"/>
<circle cx="552.50" cy="484.89" r="1.75" fill="#7199dc"/>
<circle cx="556.00" cy="485.60" r="1.75" fill="#7199dc"/>
<circle cx="560.50" cy="486.67" r="1.75" fill="#7199dc"/>
<circle cx="563.50" cy="485.60" r="1.75" fill="#7199dc"/>
<circle cx="557.50" cy="491.31" r="1.75" fill="#7199dc"/>
<circle cx="561.00" cy="495.58" r="1.75" fill="#7199dc"/>
<circle cx="555.00" cy="497.37" r="1.75" fill="#7199dc"/>
<circle cx="558.50" cy="499.86" r="1.75" fill="#7199dc"/>
<circle cx="553.00" cy="502.71" r="1.75" fill="#7199dc"/>
<circle cx="556.50" cy="504.50" r="1.75" fill="#7199dc"/>
<circle cx="561.50" cy="503.43" r="1.75" fill="#7199dc"/>
<circle cx="563.00" cy="506.28" r="1.75" fill="#7199dc"/>
<circle cx="554.00" cy="506.99" r="1.75" fill="#7199dc"/>
<circle cx="558.00" cy="508.06" r="1.75" fill="#7199dc"/>
<circle cx="560.00" cy="509.13" r="1.75" fill="#7199dc"/>
<circle cx="555.00" cy="511.27" r="1.75" fill="#7199dc"/>
<circle cx="562.00" cy="510.56" r="1.75" fill="#7199dc"/>
<circle cx="552.50" cy="513.41" r="1.75" fill="#7199dc"/>
<circle cx="557.50" cy="512.70" r="1.75" fill="#7199dc"/>
<circle cx="584.03" cy="522.80" r="1.70" fill="#ff0000"/>
<circle cx="586.34" cy="520.46" r="1.70" fill="#ff0000"/>
<circle cx="586.11" cy="521.21" r="1.70" fill="#ff0000"/>
<circle cx="580.85" cy="530.84" r="1.70" fill="#ff0000"/>
<circle cx="582.96" cy="518.46" r="1.70" fill="#ff0000"/>
<circle cx="576.80" cy="519.03" r="1.70" fill="#ff0000"/>
<circle cx="578.34" cy="524.88" r="1.70" fill="#ff0000"/>
<circle cx="582.10" cy="523.87" r="1.70" fill="#ff0000"/>
<circle cx="577.99" cy="531.06" r="1.70" fill="#ff0000"/>
<circle cx="586.04" cy="527.45" r="1.70" fill="#ff0000"/>
<circle cx="577.34" cy="520.86" r="1.70" fill="#ff0000"/>
<circle cx="577.10" cy="520.44" r="1.70" fill="#ff0000"/>
<circle cx="576.96" cy="522.87" r="1.70" fill="#ff0000"/>
<circle cx="585.52" cy="531.21" r="1.70" fill="#ff0000"/>
<circle cx="577.98" cy="528.40" r="1.70" fill="#ff0000"/>
<circle cx="585.53" cy="517.93" r="1.70" fill="#ff0000"/>
<circle cx="586.56" cy="527.32" r="1.70" fill="#ff0000"/>
<circle cx="583.30" cy="523.93" r="1.70" fill="#ff0000"/>
<circle cx="586.32" cy="528.46" r="1.70" fill="#ff0000"/>
<circle cx="586.62" cy="521.88" r="1.70" fill="#ff0000"/>
<circle cx="578.94" cy="519.13" r="1.70" fill="#ff0000"/>
<circle cx="577.41" cy="526.34" r="1.70" fill="#ff0000"/>
<circle cx="576.25" cy="529.26" r="1.70" fill="#ff0000"/>
<circle cx="582.44" cy="527.15" r="1.70" fill="#ff0000"/>
<circle cx="583.30" cy="531.19" r="1.70" fill="#ff0000"/>
<circle cx="579.06" cy="526.66" r="1.70" fill="#ff0000"/>
<line x1="542.80" y1="534.80" x2="596.60" y2="534.80" stroke="#222" stroke-width="1.1"/>
<path d="M557.20 470.30 V467.30 H582.20 V470.30" stroke="#333" stroke-width="0.75" fill="none"/>
<circle cx="565.75" cy="464.20" r="1.10" fill="#222"/>
<circle cx="569.70" cy="464.20" r="1.10" fill="#222"/>
<circle cx="573.65" cy="464.20" r="1.10" fill="#222"/>
<text x="518.30" y="498.40" font-size="6.0" fill="#111" text-anchor="middle" font-weight="bold" transform="rotate(-90 518.30 498.40)" textLength="77.00" lengthAdjust="spacingAndGlyphs" stroke="#111" stroke-width="0.22">Relative mRNA expression</text>
<text x="524.40" y="498.40" font-size="6.0" fill="#111" text-anchor="middle" font-weight="bold" transform="rotate(-90 524.40 498.40)" textLength="59.00" lengthAdjust="spacingAndGlyphs" stroke="#111" stroke-width="0.22">ULK1 versus GAPDH</text>
<text x="612.00" y="420.80" font-size="12" fill="#000" text-anchor="start" font-weight="bold">k</text>
<text x="654.70" y="437.20" font-size="6.3" fill="#111" text-anchor="middle" font-weight="bold" stroke="#111" stroke-width="0.22">ULK1 levels</text>
<text x="652.00" y="455.00" font-size="6.0" fill="#111" text-anchor="middle" font-weight="bold" stroke="#111" stroke-width="0.22">R=-0.572</text>
<text x="652.0" y="462.5" font-size="6.0" fill="#111" text-anchor="middle" font-weight="bold" stroke="#111" stroke-width="0.22"><tspan font-style="italic">P</tspan>&lt;0.01</text>
<line x1="627.80" y1="462.40" x2="627.80" y2="534.55" stroke="#222" stroke-width="1.1"/>
<line x1="626.00" y1="534.10" x2="627.80" y2="534.10" stroke="#222" stroke-width="0.8"/>
<text x="624.00" y="536.05" font-size="5.9" fill="#111" text-anchor="end" font-weight="bold" stroke="#111" stroke-width="0.22">10</text>
<line x1="626.00" y1="516.25" x2="627.80" y2="516.25" stroke="#222" stroke-width="0.8"/>
<text x="624.00" y="518.20" font-size="5.9" fill="#111" text-anchor="end" font-weight="bold" stroke="#111" stroke-width="0.22">15</text>
<line x1="626.00" y1="498.40" x2="627.80" y2="498.40" stroke="#222" stroke-width="0.8"/>
<text x="624.00" y="500.35" font-size="5.9" fill="#111" text-anchor="end" font-weight="bold" stroke="#111" stroke-width="0.22">20</text>
<line x1="626.00" y1="480.55" x2="627.80" y2="480.55" stroke="#222" stroke-width="0.8"/>
<text x="624.00" y="482.50" font-size="5.9" fill="#111" text-anchor="end" font-weight="bold" stroke="#111" stroke-width="0.22">25</text>
<line x1="626.00" y1="462.70" x2="627.80" y2="462.70" stroke="#222" stroke-width="0.8"/>
<text x="624.00" y="464.65" font-size="5.9" fill="#111" text-anchor="end" font-weight="bold" stroke="#111" stroke-width="0.22">30</text>
<line x1="627.80" y1="534.10" x2="681.00" y2="534.10" stroke="#222" stroke-width="0.9"/>
<line x1="627.50" y1="534.10" x2="627.50" y2="535.90" stroke="#222" stroke-width="0.8"/>
<text x="627.50" y="543.70" font-size="6.0" fill="#111" text-anchor="middle" font-weight="bold" stroke="#111" stroke-width="0.22">0.0</text>
<line x1="645.54" y1="534.10" x2="645.54" y2="535.90" stroke="#222" stroke-width="0.8"/>
<text x="645.54" y="543.70" font-size="6.0" fill="#111" text-anchor="middle" font-weight="bold" stroke="#111" stroke-width="0.22">0.2</text>
<line x1="663.58" y1="534.10" x2="663.58" y2="535.90" stroke="#222" stroke-width="0.8"/>
<text x="663.58" y="543.70" font-size="6.0" fill="#111" text-anchor="middle" font-weight="bold" stroke="#111" stroke-width="0.22">0.4</text>
<line x1="681.62" y1="534.10" x2="681.62" y2="535.90" stroke="#222" stroke-width="0.8"/>
<text x="681.62" y="543.70" font-size="6.0" fill="#111" text-anchor="middle" font-weight="bold" stroke="#111" stroke-width="0.22">0.6</text>
<line x1="635.10" y1="490.90" x2="670.70" y2="518.50" stroke="#f0b8f0" stroke-width="0.6"/>
<circle cx="635.10" cy="501.00" r="1.85" fill="#ff0000"/>
<circle cx="642.60" cy="486.20" r="1.85" fill="#ff0000"/>
<circle cx="647.50" cy="484.70" r="1.85" fill="#ff0000"/>
<circle cx="648.40" cy="494.10" r="1.85" fill="#ff0000"/>
<circle cx="648.40" cy="500.70" r="1.85" fill="#ff0000"/>
<circle cx="654.00" cy="490.30" r="1.85" fill="#ff0000"/>
<circle cx="653.50" cy="496.00" r="1.85" fill="#ff0000"/>
<circle cx="654.00" cy="503.10" r="1.85" fill="#ff0000"/>
<circle cx="656.70" cy="506.70" r="1.85" fill="#ff0000"/>
<circle cx="651.20" cy="514.20" r="1.85" fill="#ff0000"/>
<circle cx="660.00" cy="512.30" r="1.85" fill="#ff0000"/>
<circle cx="657.60" cy="516.20" r="1.85" fill="#ff0000"/>
<circle cx="655.00" cy="520.00" r="1.85" fill="#ff0000"/>
<circle cx="655.00" cy="521.70" r="1.85" fill="#ff0000"/>
<circle cx="658.50" cy="520.70" r="1.85" fill="#ff0000"/>
<circle cx="664.70" cy="510.00" r="1.85" fill="#ff0000"/>
<circle cx="665.70" cy="512.90" r="1.85" fill="#ff0000"/>
<circle cx="664.30" cy="519.80" r="1.85" fill="#ff0000"/>
<circle cx="670.30" cy="502.90" r="1.85" fill="#ff0000"/>
<circle cx="670.50" cy="523.20" r="1.85" fill="#ff0000"/>
<text x="612.30" y="497.50" font-size="6.0" fill="#111" text-anchor="middle" font-weight="bold" transform="rotate(-90 612.30 497.50)" stroke="#111" stroke-width="0.22">APACHE-II</text>
</svg>
</body></html>
